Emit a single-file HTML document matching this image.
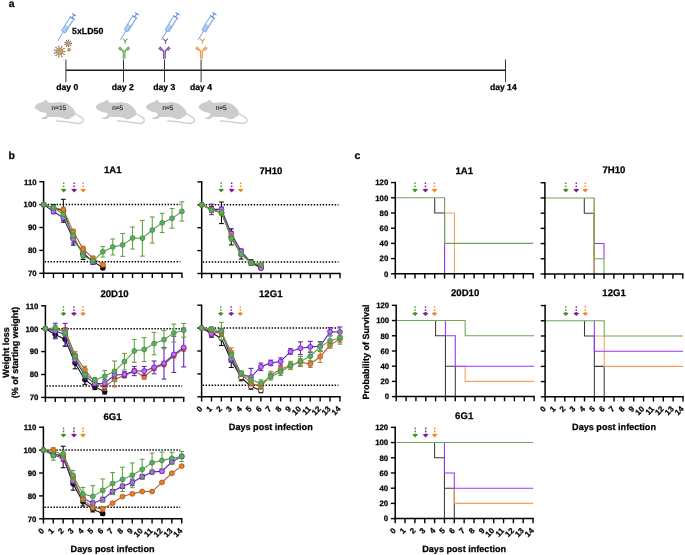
<!DOCTYPE html>
<html><head><meta charset="utf-8"><title>Figure</title>
<style>
html,body{margin:0;padding:0;background:#fff;width:685px;height:555px;overflow:hidden;}
svg{display:block;font-family:"Liberation Sans", sans-serif;filter:blur(0.35px);}
text{stroke:#000;stroke-width:0.25px;text-rendering:geometricPrecision;}
text.m{stroke:#333;stroke-width:0.2px;}
</style></head><body>
<svg width="685" height="555" viewBox="0 0 685 555" font-family='"Liberation Sans", sans-serif'><text x="8.70" y="7.00" font-size="10.4" font-weight="bold" text-anchor="start" fill="#000" >a</text>
<line x1="65.90" y1="70.30" x2="505.50" y2="70.30" stroke="#1a1a1a" stroke-width="1.4" />
<line x1="65.90" y1="59.50" x2="65.90" y2="82.20" stroke="#333" stroke-width="1.0" />
<line x1="123.50" y1="59.50" x2="123.50" y2="82.20" stroke="#333" stroke-width="1.0" />
<line x1="164.50" y1="59.50" x2="164.50" y2="82.20" stroke="#333" stroke-width="1.0" />
<line x1="201.10" y1="59.50" x2="201.10" y2="82.20" stroke="#333" stroke-width="1.0" />
<line x1="505.50" y1="59.50" x2="505.50" y2="82.20" stroke="#333" stroke-width="1.0" />
<text x="67.20" y="90.10" font-size="8.6" font-weight="bold" text-anchor="middle" fill="#000" >day 0</text>
<text x="122.80" y="90.10" font-size="8.6" font-weight="bold" text-anchor="middle" fill="#000" >day 2</text>
<text x="164.20" y="90.10" font-size="8.6" font-weight="bold" text-anchor="middle" fill="#000" >day 3</text>
<text x="201.00" y="90.10" font-size="8.6" font-weight="bold" text-anchor="middle" fill="#000" >day 4</text>
<text x="503.30" y="90.10" font-size="8.6" font-weight="bold" text-anchor="middle" fill="#000" >day 14</text>
<text x="72.00" y="34.00" font-size="8.8" font-weight="bold" text-anchor="start" fill="#000" >5xLD50</text>
<g transform="translate(57.90,40.70) rotate(-58.0)" fill="none" stroke="#5b8ee0" stroke-width="0.8"><line x1="0" y1="0" x2="10.5" y2="0"/><rect x="11" y="-1.7" width="6.5" height="3.4" fill="#a9d3ef" stroke="none"/><rect x="10.5" y="-2.1" width="16" height="4.2"/><line x1="12.5" y1="1.2" x2="25" y2="1.2" stroke-width="0.6" stroke-dasharray="0.9 0.9"/><line x1="26.8" y1="-2.9" x2="26.8" y2="2.9" stroke-width="1.0"/><line x1="27" y1="0" x2="30.3" y2="0" stroke-width="1.0"/><line x1="30.6" y1="-2.4" x2="30.6" y2="2.4" stroke-width="1.1"/></g>
<g transform="translate(120.50,39.60) rotate(-58.0)" fill="none" stroke="#5b8ee0" stroke-width="0.8"><line x1="0" y1="0" x2="10.5" y2="0"/><rect x="11" y="-1.7" width="6.5" height="3.4" fill="#a9d3ef" stroke="none"/><rect x="10.5" y="-2.1" width="16" height="4.2"/><line x1="12.5" y1="1.2" x2="25" y2="1.2" stroke-width="0.6" stroke-dasharray="0.9 0.9"/><line x1="26.8" y1="-2.9" x2="26.8" y2="2.9" stroke-width="1.0"/><line x1="27" y1="0" x2="30.3" y2="0" stroke-width="1.0"/><line x1="30.6" y1="-2.4" x2="30.6" y2="2.4" stroke-width="1.1"/></g>
<g transform="translate(161.40,39.70) rotate(-58.0)" fill="none" stroke="#5b8ee0" stroke-width="0.8"><line x1="0" y1="0" x2="10.5" y2="0"/><rect x="11" y="-1.7" width="6.5" height="3.4" fill="#a9d3ef" stroke="none"/><rect x="10.5" y="-2.1" width="16" height="4.2"/><line x1="12.5" y1="1.2" x2="25" y2="1.2" stroke-width="0.6" stroke-dasharray="0.9 0.9"/><line x1="26.8" y1="-2.9" x2="26.8" y2="2.9" stroke-width="1.0"/><line x1="27" y1="0" x2="30.3" y2="0" stroke-width="1.0"/><line x1="30.6" y1="-2.4" x2="30.6" y2="2.4" stroke-width="1.1"/></g>
<g transform="translate(198.20,39.70) rotate(-58.0)" fill="none" stroke="#5b8ee0" stroke-width="0.8"><line x1="0" y1="0" x2="10.5" y2="0"/><rect x="11" y="-1.7" width="6.5" height="3.4" fill="#a9d3ef" stroke="none"/><rect x="10.5" y="-2.1" width="16" height="4.2"/><line x1="12.5" y1="1.2" x2="25" y2="1.2" stroke-width="0.6" stroke-dasharray="0.9 0.9"/><line x1="26.8" y1="-2.9" x2="26.8" y2="2.9" stroke-width="1.0"/><line x1="27" y1="0" x2="30.3" y2="0" stroke-width="1.0"/><line x1="30.6" y1="-2.4" x2="30.6" y2="2.4" stroke-width="1.1"/></g>
<line x1="62.90" y1="51.50" x2="65.10" y2="51.50" stroke="#7a5a3c" stroke-width="0.8"/><circle cx="65.10" cy="51.50" r="0.55" fill="#6e4e34"/><line x1="62.38" y1="53.28" x2="64.23" y2="54.47" stroke="#7a5a3c" stroke-width="0.8"/><circle cx="64.23" cy="54.47" r="0.55" fill="#6e4e34"/><line x1="60.97" y1="54.50" x2="61.88" y2="56.50" stroke="#7a5a3c" stroke-width="0.8"/><circle cx="61.88" cy="56.50" r="0.55" fill="#6e4e34"/><line x1="59.13" y1="54.77" x2="58.82" y2="56.94" stroke="#7a5a3c" stroke-width="0.8"/><circle cx="58.82" cy="56.94" r="0.55" fill="#6e4e34"/><line x1="57.44" y1="53.99" x2="56.00" y2="55.66" stroke="#7a5a3c" stroke-width="0.8"/><circle cx="56.00" cy="55.66" r="0.55" fill="#6e4e34"/><line x1="56.43" y1="52.43" x2="54.32" y2="53.05" stroke="#7a5a3c" stroke-width="0.8"/><circle cx="54.32" cy="53.05" r="0.55" fill="#6e4e34"/><line x1="56.43" y1="50.57" x2="54.32" y2="49.95" stroke="#7a5a3c" stroke-width="0.8"/><circle cx="54.32" cy="49.95" r="0.55" fill="#6e4e34"/><line x1="57.44" y1="49.01" x2="56.00" y2="47.34" stroke="#7a5a3c" stroke-width="0.8"/><circle cx="56.00" cy="47.34" r="0.55" fill="#6e4e34"/><line x1="59.13" y1="48.23" x2="58.82" y2="46.06" stroke="#7a5a3c" stroke-width="0.8"/><circle cx="58.82" cy="46.06" r="0.55" fill="#6e4e34"/><line x1="60.97" y1="48.50" x2="61.88" y2="46.50" stroke="#7a5a3c" stroke-width="0.8"/><circle cx="61.88" cy="46.50" r="0.55" fill="#6e4e34"/><line x1="62.38" y1="49.72" x2="64.23" y2="48.53" stroke="#7a5a3c" stroke-width="0.8"/><circle cx="64.23" cy="48.53" r="0.55" fill="#6e4e34"/><circle cx="59.6" cy="51.5" r="3.3" fill="#c9a061" stroke="#8a6a44" stroke-width="0.5"/>
<line x1="70.10" y1="43.40" x2="71.50" y2="43.40" stroke="#7a5a3c" stroke-width="0.8"/><circle cx="71.50" cy="43.40" r="0.55" fill="#6e4e34"/><line x1="69.63" y1="44.69" x2="70.70" y2="45.59" stroke="#7a5a3c" stroke-width="0.8"/><circle cx="70.70" cy="45.59" r="0.55" fill="#6e4e34"/><line x1="68.45" y1="45.37" x2="68.69" y2="46.75" stroke="#7a5a3c" stroke-width="0.8"/><circle cx="68.69" cy="46.75" r="0.55" fill="#6e4e34"/><line x1="67.10" y1="45.13" x2="66.40" y2="46.34" stroke="#7a5a3c" stroke-width="0.8"/><circle cx="66.40" cy="46.34" r="0.55" fill="#6e4e34"/><line x1="66.22" y1="44.08" x2="64.91" y2="44.56" stroke="#7a5a3c" stroke-width="0.8"/><circle cx="64.91" cy="44.56" r="0.55" fill="#6e4e34"/><line x1="66.22" y1="42.72" x2="64.91" y2="42.24" stroke="#7a5a3c" stroke-width="0.8"/><circle cx="64.91" cy="42.24" r="0.55" fill="#6e4e34"/><line x1="67.10" y1="41.67" x2="66.40" y2="40.46" stroke="#7a5a3c" stroke-width="0.8"/><circle cx="66.40" cy="40.46" r="0.55" fill="#6e4e34"/><line x1="68.45" y1="41.43" x2="68.69" y2="40.05" stroke="#7a5a3c" stroke-width="0.8"/><circle cx="68.69" cy="40.05" r="0.55" fill="#6e4e34"/><line x1="69.63" y1="42.11" x2="70.70" y2="41.21" stroke="#7a5a3c" stroke-width="0.8"/><circle cx="70.70" cy="41.21" r="0.55" fill="#6e4e34"/><circle cx="68.1" cy="43.4" r="2.0" fill="#c9a061" stroke="#8a6a44" stroke-width="0.5"/>
<circle cx="69.0" cy="49.8" r="1.5" fill="#c9a061" stroke="#8a6a44" stroke-width="0.5"/>
<g stroke="#6aae58" fill="none" stroke-linecap="butt"><line x1="123.30" y1="50.60" x2="123.30" y2="58.80" stroke-width="1.3"/><line x1="124.90" y1="50.60" x2="124.90" y2="58.80" stroke-width="1.3"/><line x1="123.30" y1="51.20" x2="119.50" y2="46.80" stroke-width="1.4"/><line x1="120.87" y1="50.61" x2="118.40" y2="47.75" stroke-width="1.4"/><line x1="124.90" y1="51.20" x2="128.70" y2="46.80" stroke-width="1.4"/><line x1="127.33" y1="50.61" x2="129.80" y2="47.75" stroke-width="1.4"/></g><g stroke="#6aae58" stroke-width="1.1" fill="none"><line x1="125.20" y1="41.00" x2="125.20" y2="43.80"/><polyline points="122.90,38.6 125.20,41.2 127.50,38.6"/></g>
<g stroke="#7a4fa6" fill="none" stroke-linecap="butt"><line x1="163.60" y1="50.60" x2="163.60" y2="58.80" stroke-width="1.3"/><line x1="165.20" y1="50.60" x2="165.20" y2="58.80" stroke-width="1.3"/><line x1="163.60" y1="51.20" x2="159.80" y2="46.80" stroke-width="1.4"/><line x1="161.17" y1="50.61" x2="158.70" y2="47.75" stroke-width="1.4"/><line x1="165.20" y1="51.20" x2="169.00" y2="46.80" stroke-width="1.4"/><line x1="167.63" y1="50.61" x2="170.10" y2="47.75" stroke-width="1.4"/></g><g stroke="#7a4fa6" stroke-width="1.1" fill="none"><line x1="165.50" y1="41.00" x2="165.50" y2="43.80"/><polyline points="163.20,38.6 165.50,41.2 167.80,38.6"/></g>
<g stroke="#ef9a4c" fill="none" stroke-linecap="butt"><line x1="200.60" y1="50.60" x2="200.60" y2="58.80" stroke-width="1.3"/><line x1="202.20" y1="50.60" x2="202.20" y2="58.80" stroke-width="1.3"/><line x1="200.60" y1="51.20" x2="196.80" y2="46.80" stroke-width="1.4"/><line x1="198.17" y1="50.61" x2="195.70" y2="47.75" stroke-width="1.4"/><line x1="202.20" y1="51.20" x2="206.00" y2="46.80" stroke-width="1.4"/><line x1="204.63" y1="50.61" x2="207.10" y2="47.75" stroke-width="1.4"/></g><g stroke="#ef9a4c" stroke-width="1.1" fill="none"><line x1="202.50" y1="41.00" x2="202.50" y2="43.80"/><polyline points="200.20,38.6 202.50,41.2 204.80,38.6"/></g>
<g transform="translate(34.80,106.90)"><path d="M0.10,0.00 C0.10,-0.62 0.58,-1.12 1.00,-1.60 C1.42,-2.08 1.70,-2.38 2.60,-2.90 C3.50,-3.42 5.37,-4.27 6.40,-4.70 C7.43,-5.13 8.13,-5.13 8.80,-5.50 C9.47,-5.87 9.85,-6.72 10.40,-6.90 C10.95,-7.08 11.68,-6.92 12.10,-6.60 C12.52,-6.28 12.32,-5.42 12.90,-5.00 C13.48,-4.58 14.17,-4.20 15.60,-4.10 C17.03,-4.00 19.57,-4.33 21.50,-4.40 C23.43,-4.47 25.43,-4.68 27.20,-4.50 C28.97,-4.32 30.65,-3.95 32.10,-3.30 C33.55,-2.65 34.82,-1.50 35.90,-0.60 C36.98,0.30 37.88,1.20 38.60,2.10 C39.32,3.00 39.88,4.00 40.20,4.80 C40.52,5.60 40.68,6.18 40.50,6.90 C40.32,7.62 39.78,8.52 39.10,9.10 C38.42,9.68 36.98,10.00 36.40,10.40 C35.82,10.80 36.13,11.22 35.60,11.50 C35.07,11.78 34.05,11.97 33.20,12.10 C32.35,12.23 31.17,12.38 30.50,12.30 C29.83,12.22 29.83,11.88 29.20,11.60 C28.57,11.32 27.67,10.87 26.70,10.60 C25.73,10.33 24.53,10.07 23.40,10.00 C22.27,9.93 21.20,10.22 19.90,10.20 C18.60,10.18 16.58,9.90 15.60,9.90 C14.62,9.90 14.63,9.88 14.00,10.20 C13.37,10.52 12.80,11.47 11.80,11.80 C10.80,12.13 8.90,12.28 8.00,12.20 C7.10,12.12 6.13,11.63 6.40,11.30 C6.67,10.97 8.75,10.65 9.60,10.20 C10.45,9.75 11.13,9.13 11.50,8.60 C11.87,8.07 12.02,7.45 11.80,7.00 C11.58,6.55 11.28,6.32 10.20,5.90 C9.12,5.48 6.83,5.13 5.30,4.50 C3.77,3.87 1.87,2.85 1.00,2.10 C0.13,1.35 0.10,0.62 0.10,0.00 Z" fill="#cccccc"/><path d="M40.30,6.90 C41.33,7.47 41.27,7.33 43.40,8.60 C45.53,9.87 45.07,9.27 46.70,10.70 C48.33,12.13 47.93,11.47 48.30,12.90 C48.67,14.33 48.70,13.93 47.80,15.00 C46.90,16.07 47.60,15.63 45.60,16.10 C43.60,16.57 44.87,16.57 41.80,16.40 C38.73,16.23 40.00,16.13 36.40,15.60 C32.80,15.07 34.60,15.27 31.00,14.80 C27.40,14.33 28.67,14.40 25.60,14.20 C22.53,14.00 23.07,14.20 21.80,14.20" fill="none" stroke="#cccccc" stroke-width="1.3" stroke-linecap="round"/></g>
<text x="58.80" y="109.80" font-size="6.5" font-weight="normal" text-anchor="middle" fill="#333333" class="m">n=15</text>
<g transform="translate(95.80,106.90)"><path d="M0.10,0.00 C0.10,-0.62 0.58,-1.12 1.00,-1.60 C1.42,-2.08 1.70,-2.38 2.60,-2.90 C3.50,-3.42 5.37,-4.27 6.40,-4.70 C7.43,-5.13 8.13,-5.13 8.80,-5.50 C9.47,-5.87 9.85,-6.72 10.40,-6.90 C10.95,-7.08 11.68,-6.92 12.10,-6.60 C12.52,-6.28 12.32,-5.42 12.90,-5.00 C13.48,-4.58 14.17,-4.20 15.60,-4.10 C17.03,-4.00 19.57,-4.33 21.50,-4.40 C23.43,-4.47 25.43,-4.68 27.20,-4.50 C28.97,-4.32 30.65,-3.95 32.10,-3.30 C33.55,-2.65 34.82,-1.50 35.90,-0.60 C36.98,0.30 37.88,1.20 38.60,2.10 C39.32,3.00 39.88,4.00 40.20,4.80 C40.52,5.60 40.68,6.18 40.50,6.90 C40.32,7.62 39.78,8.52 39.10,9.10 C38.42,9.68 36.98,10.00 36.40,10.40 C35.82,10.80 36.13,11.22 35.60,11.50 C35.07,11.78 34.05,11.97 33.20,12.10 C32.35,12.23 31.17,12.38 30.50,12.30 C29.83,12.22 29.83,11.88 29.20,11.60 C28.57,11.32 27.67,10.87 26.70,10.60 C25.73,10.33 24.53,10.07 23.40,10.00 C22.27,9.93 21.20,10.22 19.90,10.20 C18.60,10.18 16.58,9.90 15.60,9.90 C14.62,9.90 14.63,9.88 14.00,10.20 C13.37,10.52 12.80,11.47 11.80,11.80 C10.80,12.13 8.90,12.28 8.00,12.20 C7.10,12.12 6.13,11.63 6.40,11.30 C6.67,10.97 8.75,10.65 9.60,10.20 C10.45,9.75 11.13,9.13 11.50,8.60 C11.87,8.07 12.02,7.45 11.80,7.00 C11.58,6.55 11.28,6.32 10.20,5.90 C9.12,5.48 6.83,5.13 5.30,4.50 C3.77,3.87 1.87,2.85 1.00,2.10 C0.13,1.35 0.10,0.62 0.10,0.00 Z" fill="#cccccc"/><path d="M40.30,6.90 C41.33,7.47 41.27,7.33 43.40,8.60 C45.53,9.87 45.07,9.27 46.70,10.70 C48.33,12.13 47.93,11.47 48.30,12.90 C48.67,14.33 48.70,13.93 47.80,15.00 C46.90,16.07 47.60,15.63 45.60,16.10 C43.60,16.57 44.87,16.57 41.80,16.40 C38.73,16.23 40.00,16.13 36.40,15.60 C32.80,15.07 34.60,15.27 31.00,14.80 C27.40,14.33 28.67,14.40 25.60,14.20 C22.53,14.00 23.07,14.20 21.80,14.20" fill="none" stroke="#cccccc" stroke-width="1.3" stroke-linecap="round"/></g>
<text x="117.70" y="109.80" font-size="6.5" font-weight="normal" text-anchor="middle" fill="#333333" class="m">n=5</text>
<g transform="translate(146.00,106.90)"><path d="M0.10,0.00 C0.10,-0.62 0.58,-1.12 1.00,-1.60 C1.42,-2.08 1.70,-2.38 2.60,-2.90 C3.50,-3.42 5.37,-4.27 6.40,-4.70 C7.43,-5.13 8.13,-5.13 8.80,-5.50 C9.47,-5.87 9.85,-6.72 10.40,-6.90 C10.95,-7.08 11.68,-6.92 12.10,-6.60 C12.52,-6.28 12.32,-5.42 12.90,-5.00 C13.48,-4.58 14.17,-4.20 15.60,-4.10 C17.03,-4.00 19.57,-4.33 21.50,-4.40 C23.43,-4.47 25.43,-4.68 27.20,-4.50 C28.97,-4.32 30.65,-3.95 32.10,-3.30 C33.55,-2.65 34.82,-1.50 35.90,-0.60 C36.98,0.30 37.88,1.20 38.60,2.10 C39.32,3.00 39.88,4.00 40.20,4.80 C40.52,5.60 40.68,6.18 40.50,6.90 C40.32,7.62 39.78,8.52 39.10,9.10 C38.42,9.68 36.98,10.00 36.40,10.40 C35.82,10.80 36.13,11.22 35.60,11.50 C35.07,11.78 34.05,11.97 33.20,12.10 C32.35,12.23 31.17,12.38 30.50,12.30 C29.83,12.22 29.83,11.88 29.20,11.60 C28.57,11.32 27.67,10.87 26.70,10.60 C25.73,10.33 24.53,10.07 23.40,10.00 C22.27,9.93 21.20,10.22 19.90,10.20 C18.60,10.18 16.58,9.90 15.60,9.90 C14.62,9.90 14.63,9.88 14.00,10.20 C13.37,10.52 12.80,11.47 11.80,11.80 C10.80,12.13 8.90,12.28 8.00,12.20 C7.10,12.12 6.13,11.63 6.40,11.30 C6.67,10.97 8.75,10.65 9.60,10.20 C10.45,9.75 11.13,9.13 11.50,8.60 C11.87,8.07 12.02,7.45 11.80,7.00 C11.58,6.55 11.28,6.32 10.20,5.90 C9.12,5.48 6.83,5.13 5.30,4.50 C3.77,3.87 1.87,2.85 1.00,2.10 C0.13,1.35 0.10,0.62 0.10,0.00 Z" fill="#cccccc"/><path d="M40.30,6.90 C41.33,7.47 41.27,7.33 43.40,8.60 C45.53,9.87 45.07,9.27 46.70,10.70 C48.33,12.13 47.93,11.47 48.30,12.90 C48.67,14.33 48.70,13.93 47.80,15.00 C46.90,16.07 47.60,15.63 45.60,16.10 C43.60,16.57 44.87,16.57 41.80,16.40 C38.73,16.23 40.00,16.13 36.40,15.60 C32.80,15.07 34.60,15.27 31.00,14.80 C27.40,14.33 28.67,14.40 25.60,14.20 C22.53,14.00 23.07,14.20 21.80,14.20" fill="none" stroke="#cccccc" stroke-width="1.3" stroke-linecap="round"/></g>
<text x="167.90" y="109.80" font-size="6.5" font-weight="normal" text-anchor="middle" fill="#333333" class="m">n=5</text>
<g transform="translate(198.60,106.90)"><path d="M0.10,0.00 C0.10,-0.62 0.58,-1.12 1.00,-1.60 C1.42,-2.08 1.70,-2.38 2.60,-2.90 C3.50,-3.42 5.37,-4.27 6.40,-4.70 C7.43,-5.13 8.13,-5.13 8.80,-5.50 C9.47,-5.87 9.85,-6.72 10.40,-6.90 C10.95,-7.08 11.68,-6.92 12.10,-6.60 C12.52,-6.28 12.32,-5.42 12.90,-5.00 C13.48,-4.58 14.17,-4.20 15.60,-4.10 C17.03,-4.00 19.57,-4.33 21.50,-4.40 C23.43,-4.47 25.43,-4.68 27.20,-4.50 C28.97,-4.32 30.65,-3.95 32.10,-3.30 C33.55,-2.65 34.82,-1.50 35.90,-0.60 C36.98,0.30 37.88,1.20 38.60,2.10 C39.32,3.00 39.88,4.00 40.20,4.80 C40.52,5.60 40.68,6.18 40.50,6.90 C40.32,7.62 39.78,8.52 39.10,9.10 C38.42,9.68 36.98,10.00 36.40,10.40 C35.82,10.80 36.13,11.22 35.60,11.50 C35.07,11.78 34.05,11.97 33.20,12.10 C32.35,12.23 31.17,12.38 30.50,12.30 C29.83,12.22 29.83,11.88 29.20,11.60 C28.57,11.32 27.67,10.87 26.70,10.60 C25.73,10.33 24.53,10.07 23.40,10.00 C22.27,9.93 21.20,10.22 19.90,10.20 C18.60,10.18 16.58,9.90 15.60,9.90 C14.62,9.90 14.63,9.88 14.00,10.20 C13.37,10.52 12.80,11.47 11.80,11.80 C10.80,12.13 8.90,12.28 8.00,12.20 C7.10,12.12 6.13,11.63 6.40,11.30 C6.67,10.97 8.75,10.65 9.60,10.20 C10.45,9.75 11.13,9.13 11.50,8.60 C11.87,8.07 12.02,7.45 11.80,7.00 C11.58,6.55 11.28,6.32 10.20,5.90 C9.12,5.48 6.83,5.13 5.30,4.50 C3.77,3.87 1.87,2.85 1.00,2.10 C0.13,1.35 0.10,0.62 0.10,0.00 Z" fill="#cccccc"/><path d="M40.30,6.90 C41.33,7.47 41.27,7.33 43.40,8.60 C45.53,9.87 45.07,9.27 46.70,10.70 C48.33,12.13 47.93,11.47 48.30,12.90 C48.67,14.33 48.70,13.93 47.80,15.00 C46.90,16.07 47.60,15.63 45.60,16.10 C43.60,16.57 44.87,16.57 41.80,16.40 C38.73,16.23 40.00,16.13 36.40,15.60 C32.80,15.07 34.60,15.27 31.00,14.80 C27.40,14.33 28.67,14.40 25.60,14.20 C22.53,14.00 23.07,14.20 21.80,14.20" fill="none" stroke="#cccccc" stroke-width="1.3" stroke-linecap="round"/></g>
<text x="221.20" y="109.80" font-size="6.5" font-weight="normal" text-anchor="middle" fill="#333333" class="m">n=5</text>
<text x="8.60" y="159.00" font-size="10.5" font-weight="bold" text-anchor="start" fill="#000" >b</text>
<text x="354.60" y="159.00" font-size="10.5" font-weight="bold" text-anchor="start" fill="#000" >c</text>
<text x="112.76" y="172.80" font-size="9.6" font-weight="bold" text-anchor="middle" fill="#000" >1A1</text>
<line x1="63.70" y1="182.50" x2="63.70" y2="188.50" stroke="#4a8f2a" stroke-width="1.4" stroke-dasharray="1.6 1.4"/>
<path d="M63.70,188.40 L66.60,189.50 L63.70,192.40 L60.80,189.50 Z" fill="#4a8f2a"/>
<line x1="74.15" y1="182.50" x2="74.15" y2="188.50" stroke="#7d1a95" stroke-width="1.4" stroke-dasharray="1.6 1.4"/>
<path d="M74.15,188.40 L77.05,189.50 L74.15,192.40 L71.25,189.50 Z" fill="#7d1a95"/>
<line x1="83.20" y1="182.50" x2="83.20" y2="188.50" stroke="#f08a2a" stroke-width="1.4" stroke-dasharray="1.6 1.4"/>
<path d="M83.20,188.40 L86.10,189.50 L83.20,192.40 L80.30,189.50 Z" fill="#f08a2a"/>
<line x1="44.60" y1="204.60" x2="180.42" y2="204.60" stroke="#000" stroke-width="1.5" stroke-dasharray="1.45 1.55"/>
<line x1="44.60" y1="261.85" x2="180.42" y2="261.85" stroke="#000" stroke-width="1.5" stroke-dasharray="1.45 1.55"/>
<line x1="43.60" y1="181.00" x2="43.60" y2="274.00" stroke="#000" stroke-width="1.5" />
<line x1="39.30" y1="181.70" x2="43.60" y2="181.70" stroke="#000" stroke-width="1.4" />
<text x="36.60" y="184.50" font-size="7.8" font-weight="bold" text-anchor="end" fill="#000" >110</text>
<line x1="39.30" y1="204.60" x2="43.60" y2="204.60" stroke="#000" stroke-width="1.4" />
<text x="36.60" y="207.40" font-size="7.8" font-weight="bold" text-anchor="end" fill="#000" >100</text>
<line x1="39.30" y1="227.50" x2="43.60" y2="227.50" stroke="#000" stroke-width="1.4" />
<text x="36.60" y="230.30" font-size="7.8" font-weight="bold" text-anchor="end" fill="#000" >90</text>
<line x1="39.30" y1="250.40" x2="43.60" y2="250.40" stroke="#000" stroke-width="1.4" />
<text x="36.60" y="253.20" font-size="7.8" font-weight="bold" text-anchor="end" fill="#000" >80</text>
<line x1="39.30" y1="273.30" x2="43.60" y2="273.30" stroke="#000" stroke-width="1.4" />
<text x="36.60" y="276.10" font-size="7.8" font-weight="bold" text-anchor="end" fill="#000" >70</text>
<line x1="42.90" y1="273.30" x2="182.62" y2="273.30" stroke="#000" stroke-width="1.5" />
<line x1="43.60" y1="273.30" x2="43.60" y2="278.00" stroke="#000" stroke-width="1.4" />
<line x1="53.48" y1="273.30" x2="53.48" y2="278.00" stroke="#000" stroke-width="1.4" />
<line x1="63.36" y1="273.30" x2="63.36" y2="278.00" stroke="#000" stroke-width="1.4" />
<line x1="73.24" y1="273.30" x2="73.24" y2="278.00" stroke="#000" stroke-width="1.4" />
<line x1="83.12" y1="273.30" x2="83.12" y2="278.00" stroke="#000" stroke-width="1.4" />
<line x1="93.00" y1="273.30" x2="93.00" y2="278.00" stroke="#000" stroke-width="1.4" />
<line x1="102.88" y1="273.30" x2="102.88" y2="278.00" stroke="#000" stroke-width="1.4" />
<line x1="112.76" y1="273.30" x2="112.76" y2="278.00" stroke="#000" stroke-width="1.4" />
<line x1="122.64" y1="273.30" x2="122.64" y2="278.00" stroke="#000" stroke-width="1.4" />
<line x1="132.52" y1="273.30" x2="132.52" y2="278.00" stroke="#000" stroke-width="1.4" />
<line x1="142.40" y1="273.30" x2="142.40" y2="278.00" stroke="#000" stroke-width="1.4" />
<line x1="152.28" y1="273.30" x2="152.28" y2="278.00" stroke="#000" stroke-width="1.4" />
<line x1="162.16" y1="273.30" x2="162.16" y2="278.00" stroke="#000" stroke-width="1.4" />
<line x1="172.04" y1="273.30" x2="172.04" y2="278.00" stroke="#000" stroke-width="1.4" />
<line x1="181.92" y1="273.30" x2="181.92" y2="278.00" stroke="#000" stroke-width="1.4" />
<g stroke="#111111" stroke-width="1.1"><line x1="53.48" y1="204.60" x2="53.48" y2="211.47"/><line x1="51.08" y1="204.60" x2="55.88" y2="204.60"/><line x1="51.08" y1="211.47" x2="55.88" y2="211.47"/></g>
<g stroke="#111111" stroke-width="1.1"><line x1="63.36" y1="199.33" x2="63.36" y2="222.23"/><line x1="60.96" y1="199.33" x2="65.76" y2="199.33"/><line x1="60.96" y1="222.23" x2="65.76" y2="222.23"/></g>
<g stroke="#111111" stroke-width="1.1"><line x1="73.24" y1="230.48" x2="73.24" y2="245.13"/><line x1="70.84" y1="230.48" x2="75.64" y2="230.48"/><line x1="70.84" y1="245.13" x2="75.64" y2="245.13"/></g>
<g stroke="#111111" stroke-width="1.1"><line x1="83.12" y1="248.11" x2="83.12" y2="259.56"/><line x1="80.72" y1="248.11" x2="85.52" y2="248.11"/><line x1="80.72" y1="259.56" x2="85.52" y2="259.56"/></g>
<g stroke="#111111" stroke-width="1.1"><line x1="93.00" y1="258.42" x2="93.00" y2="264.37"/><line x1="90.60" y1="258.42" x2="95.40" y2="258.42"/><line x1="90.60" y1="264.37" x2="95.40" y2="264.37"/></g>
<g stroke="#111111" stroke-width="1.1"><line x1="102.88" y1="265.97" x2="102.88" y2="269.64"/><line x1="100.48" y1="265.97" x2="105.28" y2="265.97"/><line x1="100.48" y1="269.64" x2="105.28" y2="269.64"/></g>
<polyline points="43.60,204.60 53.48,208.04 63.36,210.78 73.24,237.81 83.12,253.84 93.00,261.39 102.88,267.80" fill="none" stroke="#111111" stroke-width="1.1"/>
<circle cx="43.60" cy="204.60" r="2.45" fill="#111111" stroke="#000000" stroke-width="0.8"/>
<circle cx="53.48" cy="208.04" r="2.45" fill="#111111" stroke="#000000" stroke-width="0.8"/>
<circle cx="63.36" cy="210.78" r="2.45" fill="#111111" stroke="#000000" stroke-width="0.8"/>
<circle cx="73.24" cy="237.81" r="2.45" fill="#111111" stroke="#000000" stroke-width="0.8"/>
<circle cx="83.12" cy="253.84" r="2.45" fill="#111111" stroke="#000000" stroke-width="0.8"/>
<circle cx="93.00" cy="261.39" r="2.45" fill="#111111" stroke="#000000" stroke-width="0.8"/>
<circle cx="102.88" cy="267.80" r="2.45" fill="#111111" stroke="#000000" stroke-width="0.8"/>
<g stroke="#6a22b8" stroke-width="1.1"><line x1="53.48" y1="209.18" x2="53.48" y2="213.76"/><line x1="51.08" y1="209.18" x2="55.88" y2="209.18"/><line x1="51.08" y1="213.76" x2="55.88" y2="213.76"/></g>
<g stroke="#6a22b8" stroke-width="1.1"><line x1="63.36" y1="215.13" x2="63.36" y2="220.63"/><line x1="60.96" y1="215.13" x2="65.76" y2="215.13"/><line x1="60.96" y1="220.63" x2="65.76" y2="220.63"/></g>
<g stroke="#6a22b8" stroke-width="1.1"><line x1="73.24" y1="234.83" x2="73.24" y2="243.07"/><line x1="70.84" y1="234.83" x2="75.64" y2="234.83"/><line x1="70.84" y1="243.07" x2="75.64" y2="243.07"/></g>
<g stroke="#6a22b8" stroke-width="1.1"><line x1="83.12" y1="249.94" x2="83.12" y2="255.44"/><line x1="80.72" y1="249.94" x2="85.52" y2="249.94"/><line x1="80.72" y1="255.44" x2="85.52" y2="255.44"/></g>
<g stroke="#6a22b8" stroke-width="1.1"><line x1="93.00" y1="260.48" x2="93.00" y2="264.14"/><line x1="90.60" y1="260.48" x2="95.40" y2="260.48"/><line x1="90.60" y1="264.14" x2="95.40" y2="264.14"/></g>
<polyline points="43.60,204.60 53.48,211.47 63.36,217.88 73.24,238.95 83.12,252.69 93.00,262.31" fill="none" stroke="#22208e" stroke-width="1.1"/>
<circle cx="43.60" cy="204.60" r="2.45" fill="#c26cff" stroke="#5e14aa" stroke-width="0.8"/>
<circle cx="53.48" cy="211.47" r="2.45" fill="#c26cff" stroke="#5e14aa" stroke-width="0.8"/>
<circle cx="63.36" cy="217.88" r="2.45" fill="#c26cff" stroke="#5e14aa" stroke-width="0.8"/>
<circle cx="73.24" cy="238.95" r="2.45" fill="#c26cff" stroke="#5e14aa" stroke-width="0.8"/>
<circle cx="83.12" cy="252.69" r="2.45" fill="#c26cff" stroke="#5e14aa" stroke-width="0.8"/>
<circle cx="93.00" cy="262.31" r="2.45" fill="#c26cff" stroke="#5e14aa" stroke-width="0.8"/>
<g stroke="#b87a4e" stroke-width="1.1"><line x1="53.48" y1="205.97" x2="53.48" y2="209.64"/><line x1="51.08" y1="205.97" x2="55.88" y2="205.97"/><line x1="51.08" y1="209.64" x2="55.88" y2="209.64"/></g>
<g stroke="#b87a4e" stroke-width="1.1"><line x1="63.36" y1="207.35" x2="63.36" y2="211.93"/><line x1="60.96" y1="207.35" x2="65.76" y2="207.35"/><line x1="60.96" y1="211.93" x2="65.76" y2="211.93"/></g>
<g stroke="#b87a4e" stroke-width="1.1"><line x1="73.24" y1="229.33" x2="73.24" y2="233.91"/><line x1="70.84" y1="229.33" x2="75.64" y2="229.33"/><line x1="70.84" y1="233.91" x2="75.64" y2="233.91"/></g>
<g stroke="#b87a4e" stroke-width="1.1"><line x1="83.12" y1="246.28" x2="83.12" y2="251.77"/><line x1="80.72" y1="246.28" x2="85.52" y2="246.28"/><line x1="80.72" y1="251.77" x2="85.52" y2="251.77"/></g>
<g stroke="#b87a4e" stroke-width="1.1"><line x1="93.00" y1="256.35" x2="93.00" y2="260.02"/><line x1="90.60" y1="256.35" x2="95.40" y2="256.35"/><line x1="90.60" y1="260.02" x2="95.40" y2="260.02"/></g>
<g stroke="#b87a4e" stroke-width="1.1"><line x1="102.88" y1="263.00" x2="102.88" y2="266.66"/><line x1="100.48" y1="263.00" x2="105.28" y2="263.00"/><line x1="100.48" y1="266.66" x2="105.28" y2="266.66"/></g>
<polyline points="43.60,204.60 53.48,207.81 63.36,209.64 73.24,231.62 83.12,249.03 93.00,258.19 102.88,264.83" fill="none" stroke="#b0602e" stroke-width="1.1"/>
<circle cx="43.60" cy="204.60" r="2.45" fill="#f07c22" stroke="#a9561c" stroke-width="0.8"/>
<circle cx="53.48" cy="207.81" r="2.45" fill="#f07c22" stroke="#a9561c" stroke-width="0.8"/>
<circle cx="63.36" cy="209.64" r="2.45" fill="#f07c22" stroke="#a9561c" stroke-width="0.8"/>
<circle cx="73.24" cy="231.62" r="2.45" fill="#f07c22" stroke="#a9561c" stroke-width="0.8"/>
<circle cx="83.12" cy="249.03" r="2.45" fill="#f07c22" stroke="#a9561c" stroke-width="0.8"/>
<circle cx="93.00" cy="258.19" r="2.45" fill="#f07c22" stroke="#a9561c" stroke-width="0.8"/>
<circle cx="102.88" cy="264.83" r="2.45" fill="#f07c22" stroke="#a9561c" stroke-width="0.8"/>
<g stroke="#62a448" stroke-width="1.1"><line x1="53.48" y1="205.75" x2="53.48" y2="209.41"/><line x1="51.08" y1="205.75" x2="55.88" y2="205.75"/><line x1="51.08" y1="209.41" x2="55.88" y2="209.41"/></g>
<g stroke="#62a448" stroke-width="1.1"><line x1="63.36" y1="212.16" x2="63.36" y2="216.74"/><line x1="60.96" y1="212.16" x2="65.76" y2="212.16"/><line x1="60.96" y1="216.74" x2="65.76" y2="216.74"/></g>
<g stroke="#62a448" stroke-width="1.1"><line x1="73.24" y1="233.23" x2="73.24" y2="237.81"/><line x1="70.84" y1="233.23" x2="75.64" y2="233.23"/><line x1="70.84" y1="237.81" x2="75.64" y2="237.81"/></g>
<g stroke="#62a448" stroke-width="1.1"><line x1="83.12" y1="253.38" x2="83.12" y2="257.96"/><line x1="80.72" y1="253.38" x2="85.52" y2="253.38"/><line x1="80.72" y1="257.96" x2="85.52" y2="257.96"/></g>
<g stroke="#62a448" stroke-width="1.1"><line x1="93.00" y1="259.10" x2="93.00" y2="262.77"/><line x1="90.60" y1="259.10" x2="95.40" y2="259.10"/><line x1="90.60" y1="262.77" x2="95.40" y2="262.77"/></g>
<g stroke="#62a448" stroke-width="1.1"><line x1="102.88" y1="246.51" x2="102.88" y2="257.04"/><line x1="100.48" y1="246.51" x2="105.28" y2="246.51"/><line x1="100.48" y1="257.04" x2="105.28" y2="257.04"/></g>
<g stroke="#62a448" stroke-width="1.1"><line x1="112.76" y1="238.95" x2="112.76" y2="254.98"/><line x1="110.36" y1="238.95" x2="115.16" y2="238.95"/><line x1="110.36" y1="254.98" x2="115.16" y2="254.98"/></g>
<g stroke="#62a448" stroke-width="1.1"><line x1="122.64" y1="233.45" x2="122.64" y2="256.35"/><line x1="120.24" y1="233.45" x2="125.04" y2="233.45"/><line x1="120.24" y1="256.35" x2="125.04" y2="256.35"/></g>
<g stroke="#62a448" stroke-width="1.1"><line x1="132.52" y1="227.04" x2="132.52" y2="249.03"/><line x1="130.12" y1="227.04" x2="134.92" y2="227.04"/><line x1="130.12" y1="249.03" x2="134.92" y2="249.03"/></g>
<g stroke="#62a448" stroke-width="1.1"><line x1="142.40" y1="220.40" x2="142.40" y2="256.12"/><line x1="140.00" y1="220.40" x2="144.80" y2="220.40"/><line x1="140.00" y1="256.12" x2="144.80" y2="256.12"/></g>
<g stroke="#62a448" stroke-width="1.1"><line x1="152.28" y1="216.97" x2="152.28" y2="243.07"/><line x1="149.88" y1="216.97" x2="154.68" y2="216.97"/><line x1="149.88" y1="243.07" x2="154.68" y2="243.07"/></g>
<g stroke="#62a448" stroke-width="1.1"><line x1="162.16" y1="213.30" x2="162.16" y2="232.54"/><line x1="159.76" y1="213.30" x2="164.56" y2="213.30"/><line x1="159.76" y1="232.54" x2="164.56" y2="232.54"/></g>
<g stroke="#62a448" stroke-width="1.1"><line x1="172.04" y1="208.49" x2="172.04" y2="228.19"/><line x1="169.64" y1="208.49" x2="174.44" y2="208.49"/><line x1="169.64" y1="228.19" x2="174.44" y2="228.19"/></g>
<g stroke="#62a448" stroke-width="1.1"><line x1="181.92" y1="201.85" x2="181.92" y2="221.09"/><line x1="179.52" y1="201.85" x2="184.32" y2="201.85"/><line x1="179.52" y1="221.09" x2="184.32" y2="221.09"/></g>
<polyline points="43.60,204.60 53.48,207.58 63.36,214.45 73.24,235.52 83.12,255.67 93.00,260.93 102.88,251.77 112.76,246.97 122.64,244.90 132.52,238.03 142.40,238.26 152.28,230.02 162.16,222.92 172.04,218.34 181.92,211.47" fill="none" stroke="#58a43c" stroke-width="1.1"/>
<circle cx="43.60" cy="204.60" r="2.45" fill="#5ea86a" stroke="#3f8d36" stroke-width="0.8"/>
<circle cx="53.48" cy="207.58" r="2.45" fill="#5ea86a" stroke="#3f8d36" stroke-width="0.8"/>
<circle cx="63.36" cy="214.45" r="2.45" fill="#5ea86a" stroke="#3f8d36" stroke-width="0.8"/>
<circle cx="73.24" cy="235.52" r="2.45" fill="#5ea86a" stroke="#3f8d36" stroke-width="0.8"/>
<circle cx="83.12" cy="255.67" r="2.45" fill="#5ea86a" stroke="#3f8d36" stroke-width="0.8"/>
<circle cx="93.00" cy="260.93" r="2.45" fill="#5ea86a" stroke="#3f8d36" stroke-width="0.8"/>
<circle cx="102.88" cy="251.77" r="2.45" fill="#5ea86a" stroke="#3f8d36" stroke-width="0.8"/>
<circle cx="112.76" cy="246.97" r="2.45" fill="#5ea86a" stroke="#3f8d36" stroke-width="0.8"/>
<circle cx="122.64" cy="244.90" r="2.45" fill="#5ea86a" stroke="#3f8d36" stroke-width="0.8"/>
<circle cx="132.52" cy="238.03" r="2.45" fill="#5ea86a" stroke="#3f8d36" stroke-width="0.8"/>
<circle cx="142.40" cy="238.26" r="2.45" fill="#5ea86a" stroke="#3f8d36" stroke-width="0.8"/>
<circle cx="152.28" cy="230.02" r="2.45" fill="#5ea86a" stroke="#3f8d36" stroke-width="0.8"/>
<circle cx="162.16" cy="222.92" r="2.45" fill="#5ea86a" stroke="#3f8d36" stroke-width="0.8"/>
<circle cx="172.04" cy="218.34" r="2.45" fill="#5ea86a" stroke="#3f8d36" stroke-width="0.8"/>
<circle cx="181.92" cy="211.47" r="2.45" fill="#5ea86a" stroke="#3f8d36" stroke-width="0.8"/>
<text x="270.86" y="173.90" font-size="9.6" font-weight="bold" text-anchor="middle" fill="#000" >7H10</text>
<line x1="221.20" y1="182.50" x2="221.20" y2="188.50" stroke="#4a8f2a" stroke-width="1.4" stroke-dasharray="1.6 1.4"/>
<path d="M221.20,188.40 L224.10,189.50 L221.20,192.40 L218.30,189.50 Z" fill="#4a8f2a"/>
<line x1="231.65" y1="182.50" x2="231.65" y2="188.50" stroke="#7d1a95" stroke-width="1.4" stroke-dasharray="1.6 1.4"/>
<path d="M231.65,188.40 L234.55,189.50 L231.65,192.40 L228.75,189.50 Z" fill="#7d1a95"/>
<line x1="240.70" y1="182.50" x2="240.70" y2="188.50" stroke="#f08a2a" stroke-width="1.4" stroke-dasharray="1.6 1.4"/>
<path d="M240.70,188.40 L243.60,189.50 L240.70,192.40 L237.80,189.50 Z" fill="#f08a2a"/>
<line x1="202.70" y1="204.80" x2="338.52" y2="204.80" stroke="#000" stroke-width="1.5" stroke-dasharray="1.45 1.55"/>
<line x1="202.70" y1="262.05" x2="338.52" y2="262.05" stroke="#000" stroke-width="1.5" stroke-dasharray="1.45 1.55"/>
<line x1="201.70" y1="181.20" x2="201.70" y2="274.20" stroke="#000" stroke-width="1.5" />
<line x1="197.40" y1="181.90" x2="201.70" y2="181.90" stroke="#000" stroke-width="1.4" />
<line x1="197.40" y1="204.80" x2="201.70" y2="204.80" stroke="#000" stroke-width="1.4" />
<line x1="197.40" y1="227.70" x2="201.70" y2="227.70" stroke="#000" stroke-width="1.4" />
<line x1="197.40" y1="250.60" x2="201.70" y2="250.60" stroke="#000" stroke-width="1.4" />
<line x1="197.40" y1="273.50" x2="201.70" y2="273.50" stroke="#000" stroke-width="1.4" />
<line x1="201.00" y1="273.50" x2="340.72" y2="273.50" stroke="#000" stroke-width="1.5" />
<line x1="201.70" y1="273.50" x2="201.70" y2="278.20" stroke="#000" stroke-width="1.4" />
<line x1="211.58" y1="273.50" x2="211.58" y2="278.20" stroke="#000" stroke-width="1.4" />
<line x1="221.46" y1="273.50" x2="221.46" y2="278.20" stroke="#000" stroke-width="1.4" />
<line x1="231.34" y1="273.50" x2="231.34" y2="278.20" stroke="#000" stroke-width="1.4" />
<line x1="241.22" y1="273.50" x2="241.22" y2="278.20" stroke="#000" stroke-width="1.4" />
<line x1="251.10" y1="273.50" x2="251.10" y2="278.20" stroke="#000" stroke-width="1.4" />
<line x1="260.98" y1="273.50" x2="260.98" y2="278.20" stroke="#000" stroke-width="1.4" />
<line x1="270.86" y1="273.50" x2="270.86" y2="278.20" stroke="#000" stroke-width="1.4" />
<line x1="280.74" y1="273.50" x2="280.74" y2="278.20" stroke="#000" stroke-width="1.4" />
<line x1="290.62" y1="273.50" x2="290.62" y2="278.20" stroke="#000" stroke-width="1.4" />
<line x1="300.50" y1="273.50" x2="300.50" y2="278.20" stroke="#000" stroke-width="1.4" />
<line x1="310.38" y1="273.50" x2="310.38" y2="278.20" stroke="#000" stroke-width="1.4" />
<line x1="320.26" y1="273.50" x2="320.26" y2="278.20" stroke="#000" stroke-width="1.4" />
<line x1="330.14" y1="273.50" x2="330.14" y2="278.20" stroke="#000" stroke-width="1.4" />
<line x1="340.02" y1="273.50" x2="340.02" y2="278.20" stroke="#000" stroke-width="1.4" />
<g stroke="#111111" stroke-width="1.1"><line x1="211.58" y1="206.63" x2="211.58" y2="212.13"/><line x1="209.18" y1="206.63" x2="213.98" y2="206.63"/><line x1="209.18" y1="212.13" x2="213.98" y2="212.13"/></g>
<g stroke="#111111" stroke-width="1.1"><line x1="221.46" y1="202.05" x2="221.46" y2="223.58"/><line x1="219.06" y1="202.05" x2="223.86" y2="202.05"/><line x1="219.06" y1="223.58" x2="223.86" y2="223.58"/></g>
<g stroke="#111111" stroke-width="1.1"><line x1="231.34" y1="228.84" x2="231.34" y2="244.88"/><line x1="228.94" y1="228.84" x2="233.74" y2="228.84"/><line x1="228.94" y1="244.88" x2="233.74" y2="244.88"/></g>
<g stroke="#111111" stroke-width="1.1"><line x1="241.22" y1="249.91" x2="241.22" y2="259.07"/><line x1="238.82" y1="249.91" x2="243.62" y2="249.91"/><line x1="238.82" y1="259.07" x2="243.62" y2="259.07"/></g>
<g stroke="#111111" stroke-width="1.1"><line x1="251.10" y1="259.76" x2="251.10" y2="265.26"/><line x1="248.70" y1="259.76" x2="253.50" y2="259.76"/><line x1="248.70" y1="265.26" x2="253.50" y2="265.26"/></g>
<g stroke="#111111" stroke-width="1.1"><line x1="260.98" y1="264.80" x2="260.98" y2="268.46"/><line x1="258.58" y1="264.80" x2="263.38" y2="264.80"/><line x1="258.58" y1="268.46" x2="263.38" y2="268.46"/></g>
<polyline points="201.70,204.80 211.58,209.38 221.46,212.81 231.34,236.86 241.22,254.49 251.10,262.51 260.98,266.63" fill="none" stroke="#111111" stroke-width="1.1"/>
<circle cx="201.70" cy="204.80" r="2.45" fill="#111111" stroke="#000000" stroke-width="0.8"/>
<circle cx="211.58" cy="209.38" r="2.45" fill="#111111" stroke="#000000" stroke-width="0.8"/>
<circle cx="221.46" cy="212.81" r="2.45" fill="#111111" stroke="#000000" stroke-width="0.8"/>
<circle cx="231.34" cy="236.86" r="2.45" fill="#111111" stroke="#000000" stroke-width="0.8"/>
<circle cx="241.22" cy="254.49" r="2.45" fill="#111111" stroke="#000000" stroke-width="0.8"/>
<circle cx="251.10" cy="262.51" r="2.45" fill="#111111" stroke="#000000" stroke-width="0.8"/>
<circle cx="260.98" cy="266.63" r="2.45" fill="#111111" stroke="#000000" stroke-width="0.8"/>
<g stroke="#6a22b8" stroke-width="1.1"><line x1="211.58" y1="204.11" x2="211.58" y2="214.65"/><line x1="209.18" y1="204.11" x2="213.98" y2="204.11"/><line x1="209.18" y1="214.65" x2="213.98" y2="214.65"/></g>
<g stroke="#6a22b8" stroke-width="1.1"><line x1="221.46" y1="207.09" x2="221.46" y2="211.67"/><line x1="219.06" y1="207.09" x2="223.86" y2="207.09"/><line x1="219.06" y1="211.67" x2="223.86" y2="211.67"/></g>
<g stroke="#6a22b8" stroke-width="1.1"><line x1="231.34" y1="231.36" x2="231.34" y2="235.94"/><line x1="228.94" y1="231.36" x2="233.74" y2="231.36"/><line x1="228.94" y1="235.94" x2="233.74" y2="235.94"/></g>
<g stroke="#6a22b8" stroke-width="1.1"><line x1="241.22" y1="249.00" x2="241.22" y2="253.58"/><line x1="238.82" y1="249.00" x2="243.62" y2="249.00"/><line x1="238.82" y1="253.58" x2="243.62" y2="253.58"/></g>
<g stroke="#6a22b8" stroke-width="1.1"><line x1="251.10" y1="260.68" x2="251.10" y2="264.34"/><line x1="248.70" y1="260.68" x2="253.50" y2="260.68"/><line x1="248.70" y1="264.34" x2="253.50" y2="264.34"/></g>
<g stroke="#6a22b8" stroke-width="1.1"><line x1="260.98" y1="266.86" x2="260.98" y2="269.61"/><line x1="258.58" y1="266.86" x2="263.38" y2="266.86"/><line x1="258.58" y1="269.61" x2="263.38" y2="269.61"/></g>
<polyline points="201.70,204.80 211.58,209.38 221.46,209.38 231.34,233.65 241.22,251.29 251.10,262.51 260.98,268.23" fill="none" stroke="#3a1ea8" stroke-width="1.1"/>
<circle cx="201.70" cy="204.80" r="2.45" fill="#c26cff" stroke="#5e14aa" stroke-width="0.8"/>
<circle cx="211.58" cy="209.38" r="2.45" fill="#c26cff" stroke="#5e14aa" stroke-width="0.8"/>
<circle cx="221.46" cy="209.38" r="2.45" fill="#c26cff" stroke="#5e14aa" stroke-width="0.8"/>
<circle cx="231.34" cy="233.65" r="2.45" fill="#c26cff" stroke="#5e14aa" stroke-width="0.8"/>
<circle cx="241.22" cy="251.29" r="2.45" fill="#c26cff" stroke="#5e14aa" stroke-width="0.8"/>
<circle cx="251.10" cy="262.51" r="2.45" fill="#c26cff" stroke="#5e14aa" stroke-width="0.8"/>
<circle cx="260.98" cy="268.23" r="2.45" fill="#c26cff" stroke="#5e14aa" stroke-width="0.8"/>
<g stroke="#b87a4e" stroke-width="1.1"><line x1="211.58" y1="207.55" x2="211.58" y2="211.21"/><line x1="209.18" y1="207.55" x2="213.98" y2="207.55"/><line x1="209.18" y1="211.21" x2="213.98" y2="211.21"/></g>
<g stroke="#b87a4e" stroke-width="1.1"><line x1="221.46" y1="210.53" x2="221.46" y2="215.10"/><line x1="219.06" y1="210.53" x2="223.86" y2="210.53"/><line x1="219.06" y1="215.10" x2="223.86" y2="215.10"/></g>
<g stroke="#b87a4e" stroke-width="1.1"><line x1="231.34" y1="234.57" x2="231.34" y2="239.15"/><line x1="228.94" y1="234.57" x2="233.74" y2="234.57"/><line x1="228.94" y1="239.15" x2="233.74" y2="239.15"/></g>
<g stroke="#b87a4e" stroke-width="1.1"><line x1="241.22" y1="251.75" x2="241.22" y2="256.32"/><line x1="238.82" y1="251.75" x2="243.62" y2="251.75"/><line x1="238.82" y1="256.32" x2="243.62" y2="256.32"/></g>
<g stroke="#b87a4e" stroke-width="1.1"><line x1="251.10" y1="260.68" x2="251.10" y2="264.34"/><line x1="248.70" y1="260.68" x2="253.50" y2="260.68"/><line x1="248.70" y1="264.34" x2="253.50" y2="264.34"/></g>
<g stroke="#b87a4e" stroke-width="1.1"><line x1="260.98" y1="263.88" x2="260.98" y2="266.63"/><line x1="258.58" y1="263.88" x2="263.38" y2="263.88"/><line x1="258.58" y1="266.63" x2="263.38" y2="266.63"/></g>
<polyline points="201.70,204.80 211.58,209.38 221.46,212.81 231.34,236.86 241.22,254.03 251.10,262.51 260.98,265.26" fill="none" stroke="#b0602e" stroke-width="1.1"/>
<circle cx="201.70" cy="204.80" r="2.45" fill="#f07c22" stroke="#a9561c" stroke-width="0.8"/>
<circle cx="211.58" cy="209.38" r="2.45" fill="#f07c22" stroke="#a9561c" stroke-width="0.8"/>
<circle cx="221.46" cy="212.81" r="2.45" fill="#f07c22" stroke="#a9561c" stroke-width="0.8"/>
<circle cx="231.34" cy="236.86" r="2.45" fill="#f07c22" stroke="#a9561c" stroke-width="0.8"/>
<circle cx="241.22" cy="254.03" r="2.45" fill="#f07c22" stroke="#a9561c" stroke-width="0.8"/>
<circle cx="251.10" cy="262.51" r="2.45" fill="#f07c22" stroke="#a9561c" stroke-width="0.8"/>
<circle cx="260.98" cy="265.26" r="2.45" fill="#f07c22" stroke="#a9561c" stroke-width="0.8"/>
<g stroke="#62a448" stroke-width="1.1"><line x1="211.58" y1="208.24" x2="211.58" y2="211.90"/><line x1="209.18" y1="208.24" x2="213.98" y2="208.24"/><line x1="209.18" y1="211.90" x2="213.98" y2="211.90"/></g>
<g stroke="#62a448" stroke-width="1.1"><line x1="221.46" y1="210.07" x2="221.46" y2="214.65"/><line x1="219.06" y1="210.07" x2="223.86" y2="210.07"/><line x1="219.06" y1="214.65" x2="223.86" y2="214.65"/></g>
<g stroke="#62a448" stroke-width="1.1"><line x1="231.34" y1="236.40" x2="231.34" y2="240.98"/><line x1="228.94" y1="236.40" x2="233.74" y2="236.40"/><line x1="228.94" y1="240.98" x2="233.74" y2="240.98"/></g>
<g stroke="#62a448" stroke-width="1.1"><line x1="241.22" y1="251.97" x2="241.22" y2="256.55"/><line x1="238.82" y1="251.97" x2="243.62" y2="251.97"/><line x1="238.82" y1="256.55" x2="243.62" y2="256.55"/></g>
<g stroke="#62a448" stroke-width="1.1"><line x1="251.10" y1="261.13" x2="251.10" y2="264.80"/><line x1="248.70" y1="261.13" x2="253.50" y2="261.13"/><line x1="248.70" y1="264.80" x2="253.50" y2="264.80"/></g>
<g stroke="#62a448" stroke-width="1.1"><line x1="260.98" y1="263.42" x2="260.98" y2="266.17"/><line x1="258.58" y1="263.42" x2="263.38" y2="263.42"/><line x1="258.58" y1="266.17" x2="263.38" y2="266.17"/></g>
<polyline points="201.70,204.80 211.58,210.07 221.46,212.36 231.34,238.69 241.22,254.26 251.10,262.97 260.98,264.80" fill="none" stroke="#58a43c" stroke-width="1.1"/>
<circle cx="201.70" cy="204.80" r="2.45" fill="#5ea86a" stroke="#3f8d36" stroke-width="0.8"/>
<circle cx="211.58" cy="210.07" r="2.45" fill="#5ea86a" stroke="#3f8d36" stroke-width="0.8"/>
<circle cx="221.46" cy="212.36" r="2.45" fill="#5ea86a" stroke="#3f8d36" stroke-width="0.8"/>
<circle cx="231.34" cy="238.69" r="2.45" fill="#5ea86a" stroke="#3f8d36" stroke-width="0.8"/>
<circle cx="241.22" cy="254.26" r="2.45" fill="#5ea86a" stroke="#3f8d36" stroke-width="0.8"/>
<circle cx="251.10" cy="262.97" r="2.45" fill="#5ea86a" stroke="#3f8d36" stroke-width="0.8"/>
<circle cx="260.98" cy="264.80" r="2.45" fill="#5ea86a" stroke="#3f8d36" stroke-width="0.8"/>
<text x="114.56" y="296.60" font-size="9.6" font-weight="bold" text-anchor="middle" fill="#000" >20D10</text>
<line x1="63.50" y1="306.20" x2="63.50" y2="312.20" stroke="#4a8f2a" stroke-width="1.4" stroke-dasharray="1.6 1.4"/>
<path d="M63.50,312.10 L66.40,313.20 L63.50,316.10 L60.60,313.20 Z" fill="#4a8f2a"/>
<line x1="73.95" y1="306.20" x2="73.95" y2="312.20" stroke="#7d1a95" stroke-width="1.4" stroke-dasharray="1.6 1.4"/>
<path d="M73.95,312.10 L76.85,313.20 L73.95,316.10 L71.05,313.20 Z" fill="#7d1a95"/>
<line x1="83.00" y1="306.20" x2="83.00" y2="312.20" stroke="#f08a2a" stroke-width="1.4" stroke-dasharray="1.6 1.4"/>
<path d="M83.00,312.10 L85.90,313.20 L83.00,316.10 L80.10,313.20 Z" fill="#f08a2a"/>
<line x1="46.40" y1="328.70" x2="182.22" y2="328.70" stroke="#000" stroke-width="1.5" stroke-dasharray="1.45 1.55"/>
<line x1="46.40" y1="385.95" x2="182.22" y2="385.95" stroke="#000" stroke-width="1.5" stroke-dasharray="1.45 1.55"/>
<line x1="45.40" y1="305.10" x2="45.40" y2="398.10" stroke="#000" stroke-width="1.5" />
<line x1="41.10" y1="305.80" x2="45.40" y2="305.80" stroke="#000" stroke-width="1.4" />
<text x="38.40" y="308.60" font-size="7.8" font-weight="bold" text-anchor="end" fill="#000" >110</text>
<line x1="41.10" y1="328.70" x2="45.40" y2="328.70" stroke="#000" stroke-width="1.4" />
<text x="38.40" y="331.50" font-size="7.8" font-weight="bold" text-anchor="end" fill="#000" >100</text>
<line x1="41.10" y1="351.60" x2="45.40" y2="351.60" stroke="#000" stroke-width="1.4" />
<text x="38.40" y="354.40" font-size="7.8" font-weight="bold" text-anchor="end" fill="#000" >90</text>
<line x1="41.10" y1="374.50" x2="45.40" y2="374.50" stroke="#000" stroke-width="1.4" />
<text x="38.40" y="377.30" font-size="7.8" font-weight="bold" text-anchor="end" fill="#000" >80</text>
<line x1="41.10" y1="397.40" x2="45.40" y2="397.40" stroke="#000" stroke-width="1.4" />
<text x="38.40" y="400.20" font-size="7.8" font-weight="bold" text-anchor="end" fill="#000" >70</text>
<line x1="44.70" y1="397.40" x2="184.42" y2="397.40" stroke="#000" stroke-width="1.5" />
<line x1="45.40" y1="397.40" x2="45.40" y2="402.10" stroke="#000" stroke-width="1.4" />
<line x1="55.28" y1="397.40" x2="55.28" y2="402.10" stroke="#000" stroke-width="1.4" />
<line x1="65.16" y1="397.40" x2="65.16" y2="402.10" stroke="#000" stroke-width="1.4" />
<line x1="75.04" y1="397.40" x2="75.04" y2="402.10" stroke="#000" stroke-width="1.4" />
<line x1="84.92" y1="397.40" x2="84.92" y2="402.10" stroke="#000" stroke-width="1.4" />
<line x1="94.80" y1="397.40" x2="94.80" y2="402.10" stroke="#000" stroke-width="1.4" />
<line x1="104.68" y1="397.40" x2="104.68" y2="402.10" stroke="#000" stroke-width="1.4" />
<line x1="114.56" y1="397.40" x2="114.56" y2="402.10" stroke="#000" stroke-width="1.4" />
<line x1="124.44" y1="397.40" x2="124.44" y2="402.10" stroke="#000" stroke-width="1.4" />
<line x1="134.32" y1="397.40" x2="134.32" y2="402.10" stroke="#000" stroke-width="1.4" />
<line x1="144.20" y1="397.40" x2="144.20" y2="402.10" stroke="#000" stroke-width="1.4" />
<line x1="154.08" y1="397.40" x2="154.08" y2="402.10" stroke="#000" stroke-width="1.4" />
<line x1="163.96" y1="397.40" x2="163.96" y2="402.10" stroke="#000" stroke-width="1.4" />
<line x1="173.84" y1="397.40" x2="173.84" y2="402.10" stroke="#000" stroke-width="1.4" />
<line x1="183.72" y1="397.40" x2="183.72" y2="402.10" stroke="#000" stroke-width="1.4" />
<g stroke="#111111" stroke-width="1.1"><line x1="55.28" y1="330.99" x2="55.28" y2="337.86"/><line x1="52.88" y1="330.99" x2="57.68" y2="330.99"/><line x1="52.88" y1="337.86" x2="57.68" y2="337.86"/></g>
<g stroke="#111111" stroke-width="1.1"><line x1="65.16" y1="332.59" x2="65.16" y2="346.33"/><line x1="62.76" y1="332.59" x2="67.56" y2="332.59"/><line x1="62.76" y1="346.33" x2="67.56" y2="346.33"/></g>
<g stroke="#111111" stroke-width="1.1"><line x1="75.04" y1="357.32" x2="75.04" y2="368.77"/><line x1="72.64" y1="357.32" x2="77.44" y2="357.32"/><line x1="72.64" y1="368.77" x2="77.44" y2="368.77"/></g>
<g stroke="#111111" stroke-width="1.1"><line x1="84.92" y1="375.19" x2="84.92" y2="384.35"/><line x1="82.52" y1="375.19" x2="87.32" y2="375.19"/><line x1="82.52" y1="384.35" x2="87.32" y2="384.35"/></g>
<g stroke="#111111" stroke-width="1.1"><line x1="94.80" y1="384.12" x2="94.80" y2="389.61"/><line x1="92.40" y1="384.12" x2="97.20" y2="384.12"/><line x1="92.40" y1="389.61" x2="97.20" y2="389.61"/></g>
<g stroke="#111111" stroke-width="1.1"><line x1="104.68" y1="389.38" x2="104.68" y2="393.96"/><line x1="102.28" y1="389.38" x2="107.08" y2="389.38"/><line x1="102.28" y1="393.96" x2="107.08" y2="393.96"/></g>
<polyline points="45.40,328.70 55.28,334.42 65.16,339.46 75.04,363.05 84.92,379.77 94.80,386.87 104.68,391.67" fill="none" stroke="#111111" stroke-width="1.1"/>
<circle cx="45.40" cy="328.70" r="2.45" fill="#111111" stroke="#000000" stroke-width="0.8"/>
<circle cx="55.28" cy="334.42" r="2.45" fill="#111111" stroke="#000000" stroke-width="0.8"/>
<circle cx="65.16" cy="339.46" r="2.45" fill="#111111" stroke="#000000" stroke-width="0.8"/>
<circle cx="75.04" cy="363.05" r="2.45" fill="#111111" stroke="#000000" stroke-width="0.8"/>
<circle cx="84.92" cy="379.77" r="2.45" fill="#111111" stroke="#000000" stroke-width="0.8"/>
<circle cx="94.80" cy="386.87" r="2.45" fill="#111111" stroke="#000000" stroke-width="0.8"/>
<circle cx="104.68" cy="391.67" r="2.45" fill="#111111" stroke="#000000" stroke-width="0.8"/>
<g stroke="#b87a4e" stroke-width="1.1"><line x1="55.28" y1="327.55" x2="55.28" y2="332.13"/><line x1="52.88" y1="327.55" x2="57.68" y2="327.55"/><line x1="52.88" y1="332.13" x2="57.68" y2="332.13"/></g>
<g stroke="#b87a4e" stroke-width="1.1"><line x1="65.16" y1="327.55" x2="65.16" y2="333.05"/><line x1="62.76" y1="327.55" x2="67.56" y2="327.55"/><line x1="62.76" y1="333.05" x2="67.56" y2="333.05"/></g>
<g stroke="#b87a4e" stroke-width="1.1"><line x1="75.04" y1="351.60" x2="75.04" y2="358.47"/><line x1="72.64" y1="351.60" x2="77.44" y2="351.60"/><line x1="72.64" y1="358.47" x2="77.44" y2="358.47"/></g>
<g stroke="#b87a4e" stroke-width="1.1"><line x1="84.92" y1="366.26" x2="84.92" y2="373.13"/><line x1="82.52" y1="366.26" x2="87.32" y2="366.26"/><line x1="82.52" y1="373.13" x2="87.32" y2="373.13"/></g>
<g stroke="#b87a4e" stroke-width="1.1"><line x1="94.80" y1="380.22" x2="94.80" y2="384.80"/><line x1="92.40" y1="380.22" x2="97.20" y2="380.22"/><line x1="92.40" y1="384.80" x2="97.20" y2="384.80"/></g>
<g stroke="#b87a4e" stroke-width="1.1"><line x1="104.68" y1="383.43" x2="104.68" y2="390.30"/><line x1="102.28" y1="383.43" x2="107.08" y2="383.43"/><line x1="102.28" y1="390.30" x2="107.08" y2="390.30"/></g>
<g stroke="#b87a4e" stroke-width="1.1"><line x1="114.56" y1="371.75" x2="114.56" y2="386.87"/><line x1="112.16" y1="371.75" x2="116.96" y2="371.75"/><line x1="112.16" y1="386.87" x2="116.96" y2="386.87"/></g>
<g stroke="#b87a4e" stroke-width="1.1"><line x1="124.44" y1="373.35" x2="124.44" y2="377.94"/><line x1="122.04" y1="373.35" x2="126.84" y2="373.35"/><line x1="122.04" y1="377.94" x2="126.84" y2="377.94"/></g>
<g stroke="#b87a4e" stroke-width="1.1"><line x1="134.32" y1="368.77" x2="134.32" y2="373.35"/><line x1="131.92" y1="368.77" x2="136.72" y2="368.77"/><line x1="131.92" y1="373.35" x2="136.72" y2="373.35"/></g>
<g stroke="#b87a4e" stroke-width="1.1"><line x1="144.20" y1="374.50" x2="144.20" y2="379.08"/><line x1="141.80" y1="374.50" x2="146.60" y2="374.50"/><line x1="141.80" y1="379.08" x2="146.60" y2="379.08"/></g>
<g stroke="#b87a4e" stroke-width="1.1"><line x1="154.08" y1="366.03" x2="154.08" y2="370.61"/><line x1="151.68" y1="366.03" x2="156.48" y2="366.03"/><line x1="151.68" y1="370.61" x2="156.48" y2="370.61"/></g>
<g stroke="#b87a4e" stroke-width="1.1"><line x1="163.96" y1="362.13" x2="163.96" y2="366.71"/><line x1="161.56" y1="362.13" x2="166.36" y2="362.13"/><line x1="161.56" y1="366.71" x2="166.36" y2="366.71"/></g>
<g stroke="#b87a4e" stroke-width="1.1"><line x1="173.84" y1="353.43" x2="173.84" y2="358.01"/><line x1="171.44" y1="353.43" x2="176.24" y2="353.43"/><line x1="171.44" y1="358.01" x2="176.24" y2="358.01"/></g>
<g stroke="#b87a4e" stroke-width="1.1"><line x1="183.72" y1="346.56" x2="183.72" y2="351.14"/><line x1="181.32" y1="346.56" x2="186.12" y2="346.56"/><line x1="181.32" y1="351.14" x2="186.12" y2="351.14"/></g>
<polyline points="45.40,328.70 55.28,329.84 65.16,330.30 75.04,355.03 84.92,369.69 94.80,382.51 104.68,386.87 114.56,379.31 124.44,375.64 134.32,371.06 144.20,376.79 154.08,368.32 163.96,364.42 173.84,355.72 183.72,348.85" fill="none" stroke="#b0602e" stroke-width="1.1"/>
<circle cx="45.40" cy="328.70" r="2.45" fill="#f07c22" stroke="#a9561c" stroke-width="0.8"/>
<circle cx="55.28" cy="329.84" r="2.45" fill="#f07c22" stroke="#a9561c" stroke-width="0.8"/>
<circle cx="65.16" cy="330.30" r="2.45" fill="#f07c22" stroke="#a9561c" stroke-width="0.8"/>
<circle cx="75.04" cy="355.03" r="2.45" fill="#f07c22" stroke="#a9561c" stroke-width="0.8"/>
<circle cx="84.92" cy="369.69" r="2.45" fill="#f07c22" stroke="#a9561c" stroke-width="0.8"/>
<circle cx="94.80" cy="382.51" r="2.45" fill="#f07c22" stroke="#a9561c" stroke-width="0.8"/>
<circle cx="104.68" cy="386.87" r="2.45" fill="#f07c22" stroke="#a9561c" stroke-width="0.8"/>
<circle cx="114.56" cy="379.31" r="2.45" fill="#f07c22" stroke="#a9561c" stroke-width="0.8"/>
<circle cx="124.44" cy="375.64" r="2.45" fill="#f07c22" stroke="#a9561c" stroke-width="0.8"/>
<circle cx="134.32" cy="371.06" r="2.45" fill="#f07c22" stroke="#a9561c" stroke-width="0.8"/>
<circle cx="144.20" cy="376.79" r="2.45" fill="#f07c22" stroke="#a9561c" stroke-width="0.8"/>
<circle cx="154.08" cy="368.32" r="2.45" fill="#f07c22" stroke="#a9561c" stroke-width="0.8"/>
<circle cx="163.96" cy="364.42" r="2.45" fill="#f07c22" stroke="#a9561c" stroke-width="0.8"/>
<circle cx="173.84" cy="355.72" r="2.45" fill="#f07c22" stroke="#a9561c" stroke-width="0.8"/>
<circle cx="183.72" cy="348.85" r="2.45" fill="#f07c22" stroke="#a9561c" stroke-width="0.8"/>
<g stroke="#6a22b8" stroke-width="1.1"><line x1="55.28" y1="323.20" x2="55.28" y2="338.78"/><line x1="52.88" y1="323.20" x2="57.68" y2="323.20"/><line x1="52.88" y1="338.78" x2="57.68" y2="338.78"/></g>
<g stroke="#6a22b8" stroke-width="1.1"><line x1="65.16" y1="323.43" x2="65.16" y2="345.88"/><line x1="62.76" y1="323.43" x2="67.56" y2="323.43"/><line x1="62.76" y1="345.88" x2="67.56" y2="345.88"/></g>
<g stroke="#6a22b8" stroke-width="1.1"><line x1="75.04" y1="356.18" x2="75.04" y2="363.05"/><line x1="72.64" y1="356.18" x2="77.44" y2="356.18"/><line x1="72.64" y1="363.05" x2="77.44" y2="363.05"/></g>
<g stroke="#6a22b8" stroke-width="1.1"><line x1="84.92" y1="372.21" x2="84.92" y2="379.08"/><line x1="82.52" y1="372.21" x2="87.32" y2="372.21"/><line x1="82.52" y1="379.08" x2="87.32" y2="379.08"/></g>
<g stroke="#6a22b8" stroke-width="1.1"><line x1="94.80" y1="381.37" x2="94.80" y2="385.95"/><line x1="92.40" y1="381.37" x2="97.20" y2="381.37"/><line x1="92.40" y1="385.95" x2="97.20" y2="385.95"/></g>
<g stroke="#6a22b8" stroke-width="1.1"><line x1="104.68" y1="379.77" x2="104.68" y2="386.64"/><line x1="102.28" y1="379.77" x2="107.08" y2="379.77"/><line x1="102.28" y1="386.64" x2="107.08" y2="386.64"/></g>
<g stroke="#6a22b8" stroke-width="1.1"><line x1="114.56" y1="371.52" x2="114.56" y2="378.39"/><line x1="112.16" y1="371.52" x2="116.96" y2="371.52"/><line x1="112.16" y1="378.39" x2="116.96" y2="378.39"/></g>
<g stroke="#6a22b8" stroke-width="1.1"><line x1="124.44" y1="371.75" x2="124.44" y2="377.25"/><line x1="122.04" y1="371.75" x2="126.84" y2="371.75"/><line x1="122.04" y1="377.25" x2="126.84" y2="377.25"/></g>
<g stroke="#6a22b8" stroke-width="1.1"><line x1="134.32" y1="366.48" x2="134.32" y2="375.64"/><line x1="131.92" y1="366.48" x2="136.72" y2="366.48"/><line x1="131.92" y1="375.64" x2="136.72" y2="375.64"/></g>
<g stroke="#6a22b8" stroke-width="1.1"><line x1="144.20" y1="366.48" x2="144.20" y2="375.64"/><line x1="141.80" y1="366.48" x2="146.60" y2="366.48"/><line x1="141.80" y1="375.64" x2="146.60" y2="375.64"/></g>
<g stroke="#6a22b8" stroke-width="1.1"><line x1="154.08" y1="360.99" x2="154.08" y2="373.81"/><line x1="151.68" y1="360.99" x2="156.48" y2="360.99"/><line x1="151.68" y1="373.81" x2="156.48" y2="373.81"/></g>
<g stroke="#6a22b8" stroke-width="1.1"><line x1="163.96" y1="347.48" x2="163.96" y2="379.08"/><line x1="161.56" y1="347.48" x2="166.36" y2="347.48"/><line x1="161.56" y1="379.08" x2="166.36" y2="379.08"/></g>
<g stroke="#6a22b8" stroke-width="1.1"><line x1="173.84" y1="336.26" x2="173.84" y2="372.44"/><line x1="171.44" y1="336.26" x2="176.24" y2="336.26"/><line x1="171.44" y1="372.44" x2="176.24" y2="372.44"/></g>
<g stroke="#6a22b8" stroke-width="1.1"><line x1="183.72" y1="328.01" x2="183.72" y2="366.94"/><line x1="181.32" y1="328.01" x2="186.12" y2="328.01"/><line x1="181.32" y1="366.94" x2="186.12" y2="366.94"/></g>
<polyline points="45.40,328.70 55.28,330.99 65.16,334.65 75.04,359.61 84.92,375.64 94.80,383.66 104.68,383.20 114.56,374.96 124.44,374.50 134.32,371.06 144.20,371.06 154.08,367.40 163.96,363.28 173.84,354.35 183.72,347.48" fill="none" stroke="#5a1fc4" stroke-width="1.1"/>
<circle cx="45.40" cy="328.70" r="2.45" fill="#c26cff" stroke="#5e14aa" stroke-width="0.8"/>
<circle cx="55.28" cy="330.99" r="2.45" fill="#c26cff" stroke="#5e14aa" stroke-width="0.8"/>
<circle cx="65.16" cy="334.65" r="2.45" fill="#c26cff" stroke="#5e14aa" stroke-width="0.8"/>
<circle cx="75.04" cy="359.61" r="2.45" fill="#c26cff" stroke="#5e14aa" stroke-width="0.8"/>
<circle cx="84.92" cy="375.64" r="2.45" fill="#c26cff" stroke="#5e14aa" stroke-width="0.8"/>
<circle cx="94.80" cy="383.66" r="2.45" fill="#c26cff" stroke="#5e14aa" stroke-width="0.8"/>
<circle cx="104.68" cy="383.20" r="2.45" fill="#c26cff" stroke="#5e14aa" stroke-width="0.8"/>
<circle cx="114.56" cy="374.96" r="2.45" fill="#c26cff" stroke="#5e14aa" stroke-width="0.8"/>
<circle cx="124.44" cy="374.50" r="2.45" fill="#c26cff" stroke="#5e14aa" stroke-width="0.8"/>
<circle cx="134.32" cy="371.06" r="2.45" fill="#c26cff" stroke="#5e14aa" stroke-width="0.8"/>
<circle cx="144.20" cy="371.06" r="2.45" fill="#c26cff" stroke="#5e14aa" stroke-width="0.8"/>
<circle cx="154.08" cy="367.40" r="2.45" fill="#c26cff" stroke="#5e14aa" stroke-width="0.8"/>
<circle cx="163.96" cy="363.28" r="2.45" fill="#c26cff" stroke="#5e14aa" stroke-width="0.8"/>
<circle cx="173.84" cy="354.35" r="2.45" fill="#c26cff" stroke="#5e14aa" stroke-width="0.8"/>
<circle cx="183.72" cy="347.48" r="2.45" fill="#c26cff" stroke="#5e14aa" stroke-width="0.8"/>
<g stroke="#62a448" stroke-width="1.1"><line x1="55.28" y1="325.04" x2="55.28" y2="330.53"/><line x1="52.88" y1="325.04" x2="57.68" y2="325.04"/><line x1="52.88" y1="330.53" x2="57.68" y2="330.53"/></g>
<g stroke="#62a448" stroke-width="1.1"><line x1="65.16" y1="330.07" x2="65.16" y2="335.57"/><line x1="62.76" y1="330.07" x2="67.56" y2="330.07"/><line x1="62.76" y1="335.57" x2="67.56" y2="335.57"/></g>
<g stroke="#62a448" stroke-width="1.1"><line x1="75.04" y1="353.66" x2="75.04" y2="359.16"/><line x1="72.64" y1="353.66" x2="77.44" y2="353.66"/><line x1="72.64" y1="359.16" x2="77.44" y2="359.16"/></g>
<g stroke="#62a448" stroke-width="1.1"><line x1="84.92" y1="371.75" x2="84.92" y2="377.25"/><line x1="82.52" y1="371.75" x2="87.32" y2="371.75"/><line x1="82.52" y1="377.25" x2="87.32" y2="377.25"/></g>
<g stroke="#62a448" stroke-width="1.1"><line x1="94.80" y1="377.48" x2="94.80" y2="382.97"/><line x1="92.40" y1="377.48" x2="97.20" y2="377.48"/><line x1="92.40" y1="382.97" x2="97.20" y2="382.97"/></g>
<g stroke="#62a448" stroke-width="1.1"><line x1="104.68" y1="370.61" x2="104.68" y2="382.06"/><line x1="102.28" y1="370.61" x2="107.08" y2="370.61"/><line x1="102.28" y1="382.06" x2="107.08" y2="382.06"/></g>
<g stroke="#62a448" stroke-width="1.1"><line x1="114.56" y1="360.99" x2="114.56" y2="381.60"/><line x1="112.16" y1="360.99" x2="116.96" y2="360.99"/><line x1="112.16" y1="381.60" x2="116.96" y2="381.60"/></g>
<g stroke="#62a448" stroke-width="1.1"><line x1="124.44" y1="353.43" x2="124.44" y2="369.92"/><line x1="122.04" y1="353.43" x2="126.84" y2="353.43"/><line x1="122.04" y1="369.92" x2="126.84" y2="369.92"/></g>
<g stroke="#62a448" stroke-width="1.1"><line x1="134.32" y1="339.46" x2="134.32" y2="362.36"/><line x1="131.92" y1="339.46" x2="136.72" y2="339.46"/><line x1="131.92" y1="362.36" x2="136.72" y2="362.36"/></g>
<g stroke="#62a448" stroke-width="1.1"><line x1="144.20" y1="337.63" x2="144.20" y2="361.45"/><line x1="141.80" y1="337.63" x2="146.60" y2="337.63"/><line x1="141.80" y1="361.45" x2="146.60" y2="361.45"/></g>
<g stroke="#62a448" stroke-width="1.1"><line x1="154.08" y1="332.36" x2="154.08" y2="354.81"/><line x1="151.68" y1="332.36" x2="156.48" y2="332.36"/><line x1="151.68" y1="354.81" x2="156.48" y2="354.81"/></g>
<g stroke="#62a448" stroke-width="1.1"><line x1="163.96" y1="330.53" x2="163.96" y2="348.85"/><line x1="161.56" y1="330.53" x2="166.36" y2="330.53"/><line x1="161.56" y1="348.85" x2="166.36" y2="348.85"/></g>
<g stroke="#62a448" stroke-width="1.1"><line x1="173.84" y1="324.12" x2="173.84" y2="341.98"/><line x1="171.44" y1="324.12" x2="176.24" y2="324.12"/><line x1="171.44" y1="341.98" x2="176.24" y2="341.98"/></g>
<g stroke="#62a448" stroke-width="1.1"><line x1="183.72" y1="323.43" x2="183.72" y2="337.17"/><line x1="181.32" y1="323.43" x2="186.12" y2="323.43"/><line x1="181.32" y1="337.17" x2="186.12" y2="337.17"/></g>
<polyline points="45.40,328.70 55.28,327.78 65.16,332.82 75.04,356.41 84.92,374.50 94.80,380.22 104.68,376.33 114.56,371.29 124.44,361.68 134.32,350.91 144.20,349.54 154.08,343.58 163.96,339.69 173.84,333.05 183.72,330.30" fill="none" stroke="#58a43c" stroke-width="1.1"/>
<circle cx="45.40" cy="328.70" r="2.45" fill="#5ea86a" stroke="#3f8d36" stroke-width="0.8"/>
<circle cx="55.28" cy="327.78" r="2.45" fill="#5ea86a" stroke="#3f8d36" stroke-width="0.8"/>
<circle cx="65.16" cy="332.82" r="2.45" fill="#5ea86a" stroke="#3f8d36" stroke-width="0.8"/>
<circle cx="75.04" cy="356.41" r="2.45" fill="#5ea86a" stroke="#3f8d36" stroke-width="0.8"/>
<circle cx="84.92" cy="374.50" r="2.45" fill="#5ea86a" stroke="#3f8d36" stroke-width="0.8"/>
<circle cx="94.80" cy="380.22" r="2.45" fill="#5ea86a" stroke="#3f8d36" stroke-width="0.8"/>
<circle cx="104.68" cy="376.33" r="2.45" fill="#5ea86a" stroke="#3f8d36" stroke-width="0.8"/>
<circle cx="114.56" cy="371.29" r="2.45" fill="#5ea86a" stroke="#3f8d36" stroke-width="0.8"/>
<circle cx="124.44" cy="361.68" r="2.45" fill="#5ea86a" stroke="#3f8d36" stroke-width="0.8"/>
<circle cx="134.32" cy="350.91" r="2.45" fill="#5ea86a" stroke="#3f8d36" stroke-width="0.8"/>
<circle cx="144.20" cy="349.54" r="2.45" fill="#5ea86a" stroke="#3f8d36" stroke-width="0.8"/>
<circle cx="154.08" cy="343.58" r="2.45" fill="#5ea86a" stroke="#3f8d36" stroke-width="0.8"/>
<circle cx="163.96" cy="339.69" r="2.45" fill="#5ea86a" stroke="#3f8d36" stroke-width="0.8"/>
<circle cx="173.84" cy="333.05" r="2.45" fill="#5ea86a" stroke="#3f8d36" stroke-width="0.8"/>
<circle cx="183.72" cy="330.30" r="2.45" fill="#5ea86a" stroke="#3f8d36" stroke-width="0.8"/>
<text x="270.76" y="296.80" font-size="9.6" font-weight="bold" text-anchor="middle" fill="#000" >12G1</text>
<line x1="220.76" y1="306.20" x2="220.76" y2="312.20" stroke="#4a8f2a" stroke-width="1.4" stroke-dasharray="1.6 1.4"/>
<path d="M220.76,312.10 L223.66,313.20 L220.76,316.10 L217.86,313.20 Z" fill="#4a8f2a"/>
<line x1="231.21" y1="306.20" x2="231.21" y2="312.20" stroke="#7d1a95" stroke-width="1.4" stroke-dasharray="1.6 1.4"/>
<path d="M231.21,312.10 L234.11,313.20 L231.21,316.10 L228.31,313.20 Z" fill="#7d1a95"/>
<line x1="240.26" y1="306.20" x2="240.26" y2="312.20" stroke="#f08a2a" stroke-width="1.4" stroke-dasharray="1.6 1.4"/>
<path d="M240.26,312.10 L243.16,313.20 L240.26,316.10 L237.36,313.20 Z" fill="#f08a2a"/>
<line x1="202.60" y1="328.10" x2="338.42" y2="328.10" stroke="#000" stroke-width="1.5" stroke-dasharray="1.45 1.55"/>
<line x1="202.60" y1="385.35" x2="338.42" y2="385.35" stroke="#000" stroke-width="1.5" stroke-dasharray="1.45 1.55"/>
<line x1="201.60" y1="304.50" x2="201.60" y2="397.50" stroke="#000" stroke-width="1.5" />
<line x1="197.30" y1="305.20" x2="201.60" y2="305.20" stroke="#000" stroke-width="1.4" />
<line x1="197.30" y1="328.10" x2="201.60" y2="328.10" stroke="#000" stroke-width="1.4" />
<line x1="197.30" y1="351.00" x2="201.60" y2="351.00" stroke="#000" stroke-width="1.4" />
<line x1="197.30" y1="373.90" x2="201.60" y2="373.90" stroke="#000" stroke-width="1.4" />
<line x1="197.30" y1="396.80" x2="201.60" y2="396.80" stroke="#000" stroke-width="1.4" />
<line x1="200.90" y1="396.80" x2="340.62" y2="396.80" stroke="#000" stroke-width="1.5" />
<line x1="201.60" y1="396.80" x2="201.60" y2="401.50" stroke="#000" stroke-width="1.4" />
<text transform="translate(202.80,409.40) rotate(-45)" font-size="8.0" font-weight="bold" text-anchor="end">0</text>
<line x1="211.48" y1="396.80" x2="211.48" y2="401.50" stroke="#000" stroke-width="1.4" />
<text transform="translate(212.68,409.40) rotate(-45)" font-size="8.0" font-weight="bold" text-anchor="end">1</text>
<line x1="221.36" y1="396.80" x2="221.36" y2="401.50" stroke="#000" stroke-width="1.4" />
<text transform="translate(222.56,409.40) rotate(-45)" font-size="8.0" font-weight="bold" text-anchor="end">2</text>
<line x1="231.24" y1="396.80" x2="231.24" y2="401.50" stroke="#000" stroke-width="1.4" />
<text transform="translate(232.44,409.40) rotate(-45)" font-size="8.0" font-weight="bold" text-anchor="end">3</text>
<line x1="241.12" y1="396.80" x2="241.12" y2="401.50" stroke="#000" stroke-width="1.4" />
<text transform="translate(242.32,409.40) rotate(-45)" font-size="8.0" font-weight="bold" text-anchor="end">4</text>
<line x1="251.00" y1="396.80" x2="251.00" y2="401.50" stroke="#000" stroke-width="1.4" />
<text transform="translate(252.20,409.40) rotate(-45)" font-size="8.0" font-weight="bold" text-anchor="end">5</text>
<line x1="260.88" y1="396.80" x2="260.88" y2="401.50" stroke="#000" stroke-width="1.4" />
<text transform="translate(262.08,409.40) rotate(-45)" font-size="8.0" font-weight="bold" text-anchor="end">6</text>
<line x1="270.76" y1="396.80" x2="270.76" y2="401.50" stroke="#000" stroke-width="1.4" />
<text transform="translate(271.96,409.40) rotate(-45)" font-size="8.0" font-weight="bold" text-anchor="end">7</text>
<line x1="280.64" y1="396.80" x2="280.64" y2="401.50" stroke="#000" stroke-width="1.4" />
<text transform="translate(281.84,409.40) rotate(-45)" font-size="8.0" font-weight="bold" text-anchor="end">8</text>
<line x1="290.52" y1="396.80" x2="290.52" y2="401.50" stroke="#000" stroke-width="1.4" />
<text transform="translate(291.72,409.40) rotate(-45)" font-size="8.0" font-weight="bold" text-anchor="end">9</text>
<line x1="300.40" y1="396.80" x2="300.40" y2="401.50" stroke="#000" stroke-width="1.4" />
<text transform="translate(301.60,409.40) rotate(-45)" font-size="8.0" font-weight="bold" text-anchor="end">10</text>
<line x1="310.28" y1="396.80" x2="310.28" y2="401.50" stroke="#000" stroke-width="1.4" />
<text transform="translate(311.48,409.40) rotate(-45)" font-size="8.0" font-weight="bold" text-anchor="end">11</text>
<line x1="320.16" y1="396.80" x2="320.16" y2="401.50" stroke="#000" stroke-width="1.4" />
<text transform="translate(321.36,409.40) rotate(-45)" font-size="8.0" font-weight="bold" text-anchor="end">12</text>
<line x1="330.04" y1="396.80" x2="330.04" y2="401.50" stroke="#000" stroke-width="1.4" />
<text transform="translate(331.24,409.40) rotate(-45)" font-size="8.0" font-weight="bold" text-anchor="end">13</text>
<line x1="339.92" y1="396.80" x2="339.92" y2="401.50" stroke="#000" stroke-width="1.4" />
<text transform="translate(341.12,409.40) rotate(-45)" font-size="8.0" font-weight="bold" text-anchor="end">14</text>
<text x="270.76" y="429.90" font-size="9.1" font-weight="bold" text-anchor="middle" fill="#000" >Days post infection</text>
<g stroke="#111111" stroke-width="1.1"><line x1="211.48" y1="329.25" x2="211.48" y2="336.12"/><line x1="209.08" y1="329.25" x2="213.88" y2="329.25"/><line x1="209.08" y1="336.12" x2="213.88" y2="336.12"/></g>
<g stroke="#111111" stroke-width="1.1"><line x1="221.36" y1="331.31" x2="221.36" y2="345.50"/><line x1="218.96" y1="331.31" x2="223.76" y2="331.31"/><line x1="218.96" y1="345.50" x2="223.76" y2="345.50"/></g>
<g stroke="#111111" stroke-width="1.1"><line x1="231.24" y1="352.83" x2="231.24" y2="367.49"/><line x1="228.84" y1="352.83" x2="233.64" y2="352.83"/><line x1="228.84" y1="367.49" x2="233.64" y2="367.49"/></g>
<g stroke="#111111" stroke-width="1.1"><line x1="241.12" y1="373.90" x2="241.12" y2="380.77"/><line x1="238.72" y1="373.90" x2="243.52" y2="373.90"/><line x1="238.72" y1="380.77" x2="243.52" y2="380.77"/></g>
<g stroke="#111111" stroke-width="1.1"><line x1="251.00" y1="383.75" x2="251.00" y2="389.24"/><line x1="248.60" y1="383.75" x2="253.40" y2="383.75"/><line x1="248.60" y1="389.24" x2="253.40" y2="389.24"/></g>
<g stroke="#111111" stroke-width="1.1"><line x1="260.88" y1="388.10" x2="260.88" y2="392.68"/><line x1="258.48" y1="388.10" x2="263.28" y2="388.10"/><line x1="258.48" y1="392.68" x2="263.28" y2="392.68"/></g>
<polyline points="201.60,328.10 211.48,332.68 221.36,338.41 231.24,360.16 241.12,377.34 251.00,386.50 260.88,390.39" fill="none" stroke="#111111" stroke-width="1.1"/>
<circle cx="201.60" cy="328.10" r="2.45" fill="#ffffff" stroke="#000000" stroke-width="0.8"/>
<circle cx="211.48" cy="332.68" r="2.45" fill="#ffffff" stroke="#000000" stroke-width="0.8"/>
<circle cx="221.36" cy="338.41" r="2.45" fill="#ffffff" stroke="#000000" stroke-width="0.8"/>
<circle cx="231.24" cy="360.16" r="2.45" fill="#ffffff" stroke="#000000" stroke-width="0.8"/>
<circle cx="241.12" cy="377.34" r="2.45" fill="#ffffff" stroke="#000000" stroke-width="0.8"/>
<circle cx="251.00" cy="386.50" r="2.45" fill="#ffffff" stroke="#000000" stroke-width="0.8"/>
<circle cx="260.88" cy="390.39" r="2.45" fill="#ffffff" stroke="#000000" stroke-width="0.8"/>
<g stroke="#6a22b8" stroke-width="1.1"><line x1="211.48" y1="330.16" x2="211.48" y2="337.49"/><line x1="209.08" y1="330.16" x2="213.88" y2="330.16"/><line x1="209.08" y1="337.49" x2="213.88" y2="337.49"/></g>
<g stroke="#6a22b8" stroke-width="1.1"><line x1="221.36" y1="328.79" x2="221.36" y2="334.28"/><line x1="218.96" y1="328.79" x2="223.76" y2="328.79"/><line x1="218.96" y1="334.28" x2="223.76" y2="334.28"/></g>
<g stroke="#6a22b8" stroke-width="1.1"><line x1="231.24" y1="355.35" x2="231.24" y2="362.22"/><line x1="228.84" y1="355.35" x2="233.64" y2="355.35"/><line x1="228.84" y1="362.22" x2="233.64" y2="362.22"/></g>
<g stroke="#6a22b8" stroke-width="1.1"><line x1="241.12" y1="371.61" x2="241.12" y2="376.19"/><line x1="238.72" y1="371.61" x2="243.52" y2="371.61"/><line x1="238.72" y1="376.19" x2="243.52" y2="376.19"/></g>
<g stroke="#6a22b8" stroke-width="1.1"><line x1="251.00" y1="368.40" x2="251.00" y2="385.81"/><line x1="248.60" y1="368.40" x2="253.40" y2="368.40"/><line x1="248.60" y1="385.81" x2="253.40" y2="385.81"/></g>
<g stroke="#6a22b8" stroke-width="1.1"><line x1="260.88" y1="363.14" x2="260.88" y2="370.47"/><line x1="258.48" y1="363.14" x2="263.28" y2="363.14"/><line x1="258.48" y1="370.47" x2="263.28" y2="370.47"/></g>
<g stroke="#6a22b8" stroke-width="1.1"><line x1="270.76" y1="360.16" x2="270.76" y2="365.66"/><line x1="268.36" y1="360.16" x2="273.16" y2="360.16"/><line x1="268.36" y1="365.66" x2="273.16" y2="365.66"/></g>
<g stroke="#6a22b8" stroke-width="1.1"><line x1="280.64" y1="357.87" x2="280.64" y2="365.20"/><line x1="278.24" y1="357.87" x2="283.04" y2="357.87"/><line x1="278.24" y1="365.20" x2="283.04" y2="365.20"/></g>
<g stroke="#6a22b8" stroke-width="1.1"><line x1="290.52" y1="348.71" x2="290.52" y2="354.21"/><line x1="288.12" y1="348.71" x2="292.92" y2="348.71"/><line x1="288.12" y1="354.21" x2="292.92" y2="354.21"/></g>
<g stroke="#6a22b8" stroke-width="1.1"><line x1="300.40" y1="341.84" x2="300.40" y2="354.66"/><line x1="298.00" y1="341.84" x2="302.80" y2="341.84"/><line x1="298.00" y1="354.66" x2="302.80" y2="354.66"/></g>
<g stroke="#6a22b8" stroke-width="1.1"><line x1="310.28" y1="341.38" x2="310.28" y2="352.37"/><line x1="307.88" y1="341.38" x2="312.68" y2="341.38"/><line x1="307.88" y1="352.37" x2="312.68" y2="352.37"/></g>
<g stroke="#6a22b8" stroke-width="1.1"><line x1="320.16" y1="341.61" x2="320.16" y2="350.77"/><line x1="317.76" y1="341.61" x2="322.56" y2="341.61"/><line x1="317.76" y1="350.77" x2="322.56" y2="350.77"/></g>
<g stroke="#6a22b8" stroke-width="1.1"><line x1="330.04" y1="327.64" x2="330.04" y2="335.89"/><line x1="327.64" y1="327.64" x2="332.44" y2="327.64"/><line x1="327.64" y1="335.89" x2="332.44" y2="335.89"/></g>
<g stroke="#6a22b8" stroke-width="1.1"><line x1="339.92" y1="326.96" x2="339.92" y2="337.03"/><line x1="337.52" y1="326.96" x2="342.32" y2="326.96"/><line x1="337.52" y1="337.03" x2="342.32" y2="337.03"/></g>
<polyline points="201.60,328.10 211.48,333.82 221.36,331.54 231.24,358.79 241.12,373.90 251.00,377.11 260.88,366.80 270.76,362.91 280.64,361.53 290.52,351.46 300.40,348.25 310.28,346.88 320.16,346.19 330.04,331.76 339.92,331.99" fill="none" stroke="#5a1fc4" stroke-width="1.1"/>
<circle cx="201.60" cy="328.10" r="2.45" fill="#c26cff" stroke="#5e14aa" stroke-width="0.8"/>
<circle cx="211.48" cy="333.82" r="2.45" fill="#c26cff" stroke="#5e14aa" stroke-width="0.8"/>
<circle cx="221.36" cy="331.54" r="2.45" fill="#c26cff" stroke="#5e14aa" stroke-width="0.8"/>
<circle cx="231.24" cy="358.79" r="2.45" fill="#c26cff" stroke="#5e14aa" stroke-width="0.8"/>
<circle cx="241.12" cy="373.90" r="2.45" fill="#c26cff" stroke="#5e14aa" stroke-width="0.8"/>
<circle cx="251.00" cy="377.11" r="2.45" fill="#c26cff" stroke="#5e14aa" stroke-width="0.8"/>
<circle cx="260.88" cy="366.80" r="2.45" fill="#c26cff" stroke="#5e14aa" stroke-width="0.8"/>
<circle cx="270.76" cy="362.91" r="2.45" fill="#c26cff" stroke="#5e14aa" stroke-width="0.8"/>
<circle cx="280.64" cy="361.53" r="2.45" fill="#c26cff" stroke="#5e14aa" stroke-width="0.8"/>
<circle cx="290.52" cy="351.46" r="2.45" fill="#c26cff" stroke="#5e14aa" stroke-width="0.8"/>
<circle cx="300.40" cy="348.25" r="2.45" fill="#c26cff" stroke="#5e14aa" stroke-width="0.8"/>
<circle cx="310.28" cy="346.88" r="2.45" fill="#c26cff" stroke="#5e14aa" stroke-width="0.8"/>
<circle cx="320.16" cy="346.19" r="2.45" fill="#c26cff" stroke="#5e14aa" stroke-width="0.8"/>
<circle cx="330.04" cy="331.76" r="2.45" fill="#c26cff" stroke="#5e14aa" stroke-width="0.8"/>
<circle cx="339.92" cy="331.99" r="2.45" fill="#c26cff" stroke="#5e14aa" stroke-width="0.8"/>
<g stroke="#b87a4e" stroke-width="1.1"><line x1="211.48" y1="328.10" x2="211.48" y2="332.68"/><line x1="209.08" y1="328.10" x2="213.88" y2="328.10"/><line x1="209.08" y1="332.68" x2="213.88" y2="332.68"/></g>
<g stroke="#b87a4e" stroke-width="1.1"><line x1="221.36" y1="329.93" x2="221.36" y2="335.43"/><line x1="218.96" y1="329.93" x2="223.76" y2="329.93"/><line x1="218.96" y1="335.43" x2="223.76" y2="335.43"/></g>
<g stroke="#b87a4e" stroke-width="1.1"><line x1="231.24" y1="347.79" x2="231.24" y2="356.95"/><line x1="228.84" y1="347.79" x2="233.64" y2="347.79"/><line x1="228.84" y1="356.95" x2="233.64" y2="356.95"/></g>
<g stroke="#b87a4e" stroke-width="1.1"><line x1="241.12" y1="371.61" x2="241.12" y2="376.19"/><line x1="238.72" y1="371.61" x2="243.52" y2="371.61"/><line x1="238.72" y1="376.19" x2="243.52" y2="376.19"/></g>
<g stroke="#b87a4e" stroke-width="1.1"><line x1="251.00" y1="380.77" x2="251.00" y2="385.35"/><line x1="248.60" y1="380.77" x2="253.40" y2="380.77"/><line x1="248.60" y1="385.35" x2="253.40" y2="385.35"/></g>
<g stroke="#b87a4e" stroke-width="1.1"><line x1="260.88" y1="383.75" x2="260.88" y2="389.24"/><line x1="258.48" y1="383.75" x2="263.28" y2="383.75"/><line x1="258.48" y1="389.24" x2="263.28" y2="389.24"/></g>
<g stroke="#b87a4e" stroke-width="1.1"><line x1="270.76" y1="371.38" x2="270.76" y2="378.71"/><line x1="268.36" y1="371.38" x2="273.16" y2="371.38"/><line x1="268.36" y1="378.71" x2="273.16" y2="378.71"/></g>
<g stroke="#b87a4e" stroke-width="1.1"><line x1="280.64" y1="366.57" x2="280.64" y2="372.07"/><line x1="278.24" y1="366.57" x2="283.04" y2="366.57"/><line x1="278.24" y1="372.07" x2="283.04" y2="372.07"/></g>
<g stroke="#b87a4e" stroke-width="1.1"><line x1="290.52" y1="362.68" x2="290.52" y2="368.18"/><line x1="288.12" y1="362.68" x2="292.92" y2="362.68"/><line x1="288.12" y1="368.18" x2="292.92" y2="368.18"/></g>
<g stroke="#b87a4e" stroke-width="1.1"><line x1="300.40" y1="358.56" x2="300.40" y2="365.43"/><line x1="298.00" y1="358.56" x2="302.80" y2="358.56"/><line x1="298.00" y1="365.43" x2="302.80" y2="365.43"/></g>
<g stroke="#b87a4e" stroke-width="1.1"><line x1="310.28" y1="360.62" x2="310.28" y2="367.49"/><line x1="307.88" y1="360.62" x2="312.68" y2="360.62"/><line x1="307.88" y1="367.49" x2="312.68" y2="367.49"/></g>
<g stroke="#b87a4e" stroke-width="1.1"><line x1="320.16" y1="351.00" x2="320.16" y2="362.45"/><line x1="317.76" y1="351.00" x2="322.56" y2="351.00"/><line x1="317.76" y1="362.45" x2="322.56" y2="362.45"/></g>
<g stroke="#b87a4e" stroke-width="1.1"><line x1="330.04" y1="341.84" x2="330.04" y2="348.25"/><line x1="327.64" y1="341.84" x2="332.44" y2="341.84"/><line x1="327.64" y1="348.25" x2="332.44" y2="348.25"/></g>
<g stroke="#b87a4e" stroke-width="1.1"><line x1="339.92" y1="335.89" x2="339.92" y2="342.30"/><line x1="337.52" y1="335.89" x2="342.32" y2="335.89"/><line x1="337.52" y1="342.30" x2="342.32" y2="342.30"/></g>
<polyline points="201.60,328.10 211.48,330.39 221.36,332.68 231.24,352.37 241.12,373.90 251.00,383.06 260.88,386.50 270.76,375.05 280.64,369.32 290.52,365.43 300.40,361.99 310.28,364.05 320.16,356.73 330.04,345.05 339.92,339.09" fill="none" stroke="#b0602e" stroke-width="1.1"/>
<circle cx="201.60" cy="328.10" r="2.45" fill="#f07c22" stroke="#a9561c" stroke-width="0.8"/>
<circle cx="211.48" cy="330.39" r="2.45" fill="#f07c22" stroke="#a9561c" stroke-width="0.8"/>
<circle cx="221.36" cy="332.68" r="2.45" fill="#f07c22" stroke="#a9561c" stroke-width="0.8"/>
<circle cx="231.24" cy="352.37" r="2.45" fill="#f07c22" stroke="#a9561c" stroke-width="0.8"/>
<circle cx="241.12" cy="373.90" r="2.45" fill="#f07c22" stroke="#a9561c" stroke-width="0.8"/>
<circle cx="251.00" cy="383.06" r="2.45" fill="#f07c22" stroke="#a9561c" stroke-width="0.8"/>
<circle cx="260.88" cy="386.50" r="2.45" fill="#f07c22" stroke="#a9561c" stroke-width="0.8"/>
<circle cx="270.76" cy="375.05" r="2.45" fill="#f07c22" stroke="#a9561c" stroke-width="0.8"/>
<circle cx="280.64" cy="369.32" r="2.45" fill="#f07c22" stroke="#a9561c" stroke-width="0.8"/>
<circle cx="290.52" cy="365.43" r="2.45" fill="#f07c22" stroke="#a9561c" stroke-width="0.8"/>
<circle cx="300.40" cy="361.99" r="2.45" fill="#f07c22" stroke="#a9561c" stroke-width="0.8"/>
<circle cx="310.28" cy="364.05" r="2.45" fill="#f07c22" stroke="#a9561c" stroke-width="0.8"/>
<circle cx="320.16" cy="356.73" r="2.45" fill="#f07c22" stroke="#a9561c" stroke-width="0.8"/>
<circle cx="330.04" cy="345.05" r="2.45" fill="#f07c22" stroke="#a9561c" stroke-width="0.8"/>
<circle cx="339.92" cy="339.09" r="2.45" fill="#f07c22" stroke="#a9561c" stroke-width="0.8"/>
<g stroke="#62a448" stroke-width="1.1"><line x1="211.48" y1="326.73" x2="211.48" y2="331.31"/><line x1="209.08" y1="326.73" x2="213.88" y2="326.73"/><line x1="209.08" y1="331.31" x2="213.88" y2="331.31"/></g>
<g stroke="#62a448" stroke-width="1.1"><line x1="221.36" y1="322.38" x2="221.36" y2="339.78"/><line x1="218.96" y1="322.38" x2="223.76" y2="322.38"/><line x1="218.96" y1="339.78" x2="223.76" y2="339.78"/></g>
<g stroke="#62a448" stroke-width="1.1"><line x1="231.24" y1="352.60" x2="231.24" y2="358.10"/><line x1="228.84" y1="352.60" x2="233.64" y2="352.60"/><line x1="228.84" y1="358.10" x2="233.64" y2="358.10"/></g>
<g stroke="#62a448" stroke-width="1.1"><line x1="241.12" y1="370.92" x2="241.12" y2="375.50"/><line x1="238.72" y1="370.92" x2="243.52" y2="370.92"/><line x1="238.72" y1="375.50" x2="243.52" y2="375.50"/></g>
<g stroke="#62a448" stroke-width="1.1"><line x1="251.00" y1="377.11" x2="251.00" y2="382.60"/><line x1="248.60" y1="377.11" x2="253.40" y2="377.11"/><line x1="248.60" y1="382.60" x2="253.40" y2="382.60"/></g>
<g stroke="#62a448" stroke-width="1.1"><line x1="260.88" y1="379.85" x2="260.88" y2="386.72"/><line x1="258.48" y1="379.85" x2="263.28" y2="379.85"/><line x1="258.48" y1="386.72" x2="263.28" y2="386.72"/></g>
<g stroke="#62a448" stroke-width="1.1"><line x1="270.76" y1="373.21" x2="270.76" y2="380.08"/><line x1="268.36" y1="373.21" x2="273.16" y2="373.21"/><line x1="268.36" y1="380.08" x2="273.16" y2="380.08"/></g>
<g stroke="#62a448" stroke-width="1.1"><line x1="280.64" y1="368.63" x2="280.64" y2="375.50"/><line x1="278.24" y1="368.63" x2="283.04" y2="368.63"/><line x1="278.24" y1="375.50" x2="283.04" y2="375.50"/></g>
<g stroke="#62a448" stroke-width="1.1"><line x1="290.52" y1="361.31" x2="290.52" y2="369.55"/><line x1="288.12" y1="361.31" x2="292.92" y2="361.31"/><line x1="288.12" y1="369.55" x2="292.92" y2="369.55"/></g>
<g stroke="#62a448" stroke-width="1.1"><line x1="300.40" y1="356.50" x2="300.40" y2="366.57"/><line x1="298.00" y1="356.50" x2="302.80" y2="356.50"/><line x1="298.00" y1="366.57" x2="302.80" y2="366.57"/></g>
<g stroke="#62a448" stroke-width="1.1"><line x1="310.28" y1="351.23" x2="310.28" y2="361.31"/><line x1="307.88" y1="351.23" x2="312.68" y2="351.23"/><line x1="307.88" y1="361.31" x2="312.68" y2="361.31"/></g>
<g stroke="#62a448" stroke-width="1.1"><line x1="320.16" y1="342.30" x2="320.16" y2="351.46"/><line x1="317.76" y1="342.30" x2="322.56" y2="342.30"/><line x1="317.76" y1="351.46" x2="322.56" y2="351.46"/></g>
<g stroke="#62a448" stroke-width="1.1"><line x1="330.04" y1="335.20" x2="330.04" y2="346.65"/><line x1="327.64" y1="335.20" x2="332.44" y2="335.20"/><line x1="327.64" y1="346.65" x2="332.44" y2="346.65"/></g>
<g stroke="#62a448" stroke-width="1.1"><line x1="339.92" y1="331.31" x2="339.92" y2="344.13"/><line x1="337.52" y1="331.31" x2="342.32" y2="331.31"/><line x1="337.52" y1="344.13" x2="342.32" y2="344.13"/></g>
<polyline points="201.60,328.10 211.48,329.02 221.36,331.08 231.24,355.35 241.12,373.21 251.00,379.85 260.88,383.29 270.76,376.65 280.64,372.07 290.52,365.43 300.40,361.53 310.28,356.27 320.16,346.88 330.04,340.92 339.92,337.72" fill="none" stroke="#58a43c" stroke-width="1.1"/>
<circle cx="201.60" cy="328.10" r="2.45" fill="#5ea86a" stroke="#3f8d36" stroke-width="0.8"/>
<circle cx="211.48" cy="329.02" r="2.45" fill="#5ea86a" stroke="#3f8d36" stroke-width="0.8"/>
<circle cx="221.36" cy="331.08" r="2.45" fill="#5ea86a" stroke="#3f8d36" stroke-width="0.8"/>
<circle cx="231.24" cy="355.35" r="2.45" fill="#5ea86a" stroke="#3f8d36" stroke-width="0.8"/>
<circle cx="241.12" cy="373.21" r="2.45" fill="#5ea86a" stroke="#3f8d36" stroke-width="0.8"/>
<circle cx="251.00" cy="379.85" r="2.45" fill="#5ea86a" stroke="#3f8d36" stroke-width="0.8"/>
<circle cx="260.88" cy="383.29" r="2.45" fill="#5ea86a" stroke="#3f8d36" stroke-width="0.8"/>
<circle cx="270.76" cy="376.65" r="2.45" fill="#5ea86a" stroke="#3f8d36" stroke-width="0.8"/>
<circle cx="280.64" cy="372.07" r="2.45" fill="#5ea86a" stroke="#3f8d36" stroke-width="0.8"/>
<circle cx="290.52" cy="365.43" r="2.45" fill="#5ea86a" stroke="#3f8d36" stroke-width="0.8"/>
<circle cx="300.40" cy="361.53" r="2.45" fill="#5ea86a" stroke="#3f8d36" stroke-width="0.8"/>
<circle cx="310.28" cy="356.27" r="2.45" fill="#5ea86a" stroke="#3f8d36" stroke-width="0.8"/>
<circle cx="320.16" cy="346.88" r="2.45" fill="#5ea86a" stroke="#3f8d36" stroke-width="0.8"/>
<circle cx="330.04" cy="340.92" r="2.45" fill="#5ea86a" stroke="#3f8d36" stroke-width="0.8"/>
<circle cx="339.92" cy="337.72" r="2.45" fill="#5ea86a" stroke="#3f8d36" stroke-width="0.8"/>
<text x="112.56" y="419.80" font-size="9.6" font-weight="bold" text-anchor="middle" fill="#000" >6G1</text>
<line x1="63.50" y1="427.60" x2="63.50" y2="433.60" stroke="#4a8f2a" stroke-width="1.4" stroke-dasharray="1.6 1.4"/>
<path d="M63.50,433.50 L66.40,434.60 L63.50,437.50 L60.60,434.60 Z" fill="#4a8f2a"/>
<line x1="73.95" y1="427.60" x2="73.95" y2="433.60" stroke="#7d1a95" stroke-width="1.4" stroke-dasharray="1.6 1.4"/>
<path d="M73.95,433.50 L76.85,434.60 L73.95,437.50 L71.05,434.60 Z" fill="#7d1a95"/>
<line x1="83.00" y1="427.60" x2="83.00" y2="433.60" stroke="#f08a2a" stroke-width="1.4" stroke-dasharray="1.6 1.4"/>
<path d="M83.00,433.50 L85.90,434.60 L83.00,437.50 L80.10,434.60 Z" fill="#f08a2a"/>
<line x1="44.40" y1="450.10" x2="180.22" y2="450.10" stroke="#000" stroke-width="1.5" stroke-dasharray="1.45 1.55"/>
<line x1="44.40" y1="507.35" x2="180.22" y2="507.35" stroke="#000" stroke-width="1.5" stroke-dasharray="1.45 1.55"/>
<line x1="43.40" y1="426.50" x2="43.40" y2="519.50" stroke="#000" stroke-width="1.5" />
<line x1="39.10" y1="427.20" x2="43.40" y2="427.20" stroke="#000" stroke-width="1.4" />
<text x="36.40" y="430.00" font-size="7.8" font-weight="bold" text-anchor="end" fill="#000" >110</text>
<line x1="39.10" y1="450.10" x2="43.40" y2="450.10" stroke="#000" stroke-width="1.4" />
<text x="36.40" y="452.90" font-size="7.8" font-weight="bold" text-anchor="end" fill="#000" >100</text>
<line x1="39.10" y1="473.00" x2="43.40" y2="473.00" stroke="#000" stroke-width="1.4" />
<text x="36.40" y="475.80" font-size="7.8" font-weight="bold" text-anchor="end" fill="#000" >90</text>
<line x1="39.10" y1="495.90" x2="43.40" y2="495.90" stroke="#000" stroke-width="1.4" />
<text x="36.40" y="498.70" font-size="7.8" font-weight="bold" text-anchor="end" fill="#000" >80</text>
<line x1="39.10" y1="518.80" x2="43.40" y2="518.80" stroke="#000" stroke-width="1.4" />
<text x="36.40" y="521.60" font-size="7.8" font-weight="bold" text-anchor="end" fill="#000" >70</text>
<line x1="42.70" y1="518.80" x2="182.42" y2="518.80" stroke="#000" stroke-width="1.5" />
<line x1="43.40" y1="518.80" x2="43.40" y2="523.50" stroke="#000" stroke-width="1.4" />
<text transform="translate(44.60,531.40) rotate(-45)" font-size="8.0" font-weight="bold" text-anchor="end">0</text>
<line x1="53.28" y1="518.80" x2="53.28" y2="523.50" stroke="#000" stroke-width="1.4" />
<text transform="translate(54.48,531.40) rotate(-45)" font-size="8.0" font-weight="bold" text-anchor="end">1</text>
<line x1="63.16" y1="518.80" x2="63.16" y2="523.50" stroke="#000" stroke-width="1.4" />
<text transform="translate(64.36,531.40) rotate(-45)" font-size="8.0" font-weight="bold" text-anchor="end">2</text>
<line x1="73.04" y1="518.80" x2="73.04" y2="523.50" stroke="#000" stroke-width="1.4" />
<text transform="translate(74.24,531.40) rotate(-45)" font-size="8.0" font-weight="bold" text-anchor="end">3</text>
<line x1="82.92" y1="518.80" x2="82.92" y2="523.50" stroke="#000" stroke-width="1.4" />
<text transform="translate(84.12,531.40) rotate(-45)" font-size="8.0" font-weight="bold" text-anchor="end">4</text>
<line x1="92.80" y1="518.80" x2="92.80" y2="523.50" stroke="#000" stroke-width="1.4" />
<text transform="translate(94.00,531.40) rotate(-45)" font-size="8.0" font-weight="bold" text-anchor="end">5</text>
<line x1="102.68" y1="518.80" x2="102.68" y2="523.50" stroke="#000" stroke-width="1.4" />
<text transform="translate(103.88,531.40) rotate(-45)" font-size="8.0" font-weight="bold" text-anchor="end">6</text>
<line x1="112.56" y1="518.80" x2="112.56" y2="523.50" stroke="#000" stroke-width="1.4" />
<text transform="translate(113.76,531.40) rotate(-45)" font-size="8.0" font-weight="bold" text-anchor="end">7</text>
<line x1="122.44" y1="518.80" x2="122.44" y2="523.50" stroke="#000" stroke-width="1.4" />
<text transform="translate(123.64,531.40) rotate(-45)" font-size="8.0" font-weight="bold" text-anchor="end">8</text>
<line x1="132.32" y1="518.80" x2="132.32" y2="523.50" stroke="#000" stroke-width="1.4" />
<text transform="translate(133.52,531.40) rotate(-45)" font-size="8.0" font-weight="bold" text-anchor="end">9</text>
<line x1="142.20" y1="518.80" x2="142.20" y2="523.50" stroke="#000" stroke-width="1.4" />
<text transform="translate(143.40,531.40) rotate(-45)" font-size="8.0" font-weight="bold" text-anchor="end">10</text>
<line x1="152.08" y1="518.80" x2="152.08" y2="523.50" stroke="#000" stroke-width="1.4" />
<text transform="translate(153.28,531.40) rotate(-45)" font-size="8.0" font-weight="bold" text-anchor="end">11</text>
<line x1="161.96" y1="518.80" x2="161.96" y2="523.50" stroke="#000" stroke-width="1.4" />
<text transform="translate(163.16,531.40) rotate(-45)" font-size="8.0" font-weight="bold" text-anchor="end">12</text>
<line x1="171.84" y1="518.80" x2="171.84" y2="523.50" stroke="#000" stroke-width="1.4" />
<text transform="translate(173.04,531.40) rotate(-45)" font-size="8.0" font-weight="bold" text-anchor="end">13</text>
<line x1="181.72" y1="518.80" x2="181.72" y2="523.50" stroke="#000" stroke-width="1.4" />
<text transform="translate(182.92,531.40) rotate(-45)" font-size="8.0" font-weight="bold" text-anchor="end">14</text>
<text x="112.56" y="551.90" font-size="9.1" font-weight="bold" text-anchor="middle" fill="#000" >Days post infection</text>
<g stroke="#111111" stroke-width="1.1"><line x1="53.28" y1="450.10" x2="53.28" y2="456.97"/><line x1="50.88" y1="450.10" x2="55.68" y2="450.10"/><line x1="50.88" y1="456.97" x2="55.68" y2="456.97"/></g>
<g stroke="#111111" stroke-width="1.1"><line x1="63.16" y1="446.21" x2="63.16" y2="467.73"/><line x1="60.76" y1="446.21" x2="65.56" y2="446.21"/><line x1="60.76" y1="467.73" x2="65.56" y2="467.73"/></g>
<g stroke="#111111" stroke-width="1.1"><line x1="73.04" y1="477.35" x2="73.04" y2="490.17"/><line x1="70.64" y1="477.35" x2="75.44" y2="477.35"/><line x1="70.64" y1="490.17" x2="75.44" y2="490.17"/></g>
<g stroke="#111111" stroke-width="1.1"><line x1="82.92" y1="497.73" x2="82.92" y2="505.98"/><line x1="80.52" y1="497.73" x2="85.32" y2="497.73"/><line x1="80.52" y1="505.98" x2="85.32" y2="505.98"/></g>
<g stroke="#111111" stroke-width="1.1"><line x1="92.80" y1="506.43" x2="92.80" y2="511.93"/><line x1="90.40" y1="506.43" x2="95.20" y2="506.43"/><line x1="90.40" y1="511.93" x2="95.20" y2="511.93"/></g>
<g stroke="#111111" stroke-width="1.1"><line x1="102.68" y1="511.70" x2="102.68" y2="515.37"/><line x1="100.28" y1="511.70" x2="105.08" y2="511.70"/><line x1="100.28" y1="515.37" x2="105.08" y2="515.37"/></g>
<polyline points="43.40,450.10 53.28,453.53 63.16,456.97 73.04,483.76 82.92,501.85 92.80,509.18 102.68,513.53" fill="none" stroke="#111111" stroke-width="1.1"/>
<circle cx="43.40" cy="450.10" r="2.45" fill="#111111" stroke="#000000" stroke-width="0.8"/>
<circle cx="53.28" cy="453.53" r="2.45" fill="#111111" stroke="#000000" stroke-width="0.8"/>
<circle cx="63.16" cy="456.97" r="2.45" fill="#111111" stroke="#000000" stroke-width="0.8"/>
<circle cx="73.04" cy="483.76" r="2.45" fill="#111111" stroke="#000000" stroke-width="0.8"/>
<circle cx="82.92" cy="501.85" r="2.45" fill="#111111" stroke="#000000" stroke-width="0.8"/>
<circle cx="92.80" cy="509.18" r="2.45" fill="#111111" stroke="#000000" stroke-width="0.8"/>
<circle cx="102.68" cy="513.53" r="2.45" fill="#111111" stroke="#000000" stroke-width="0.8"/>
<g stroke="#6a22b8" stroke-width="1.1"><line x1="53.28" y1="452.39" x2="53.28" y2="456.97"/><line x1="50.88" y1="452.39" x2="55.68" y2="452.39"/><line x1="50.88" y1="456.97" x2="55.68" y2="456.97"/></g>
<g stroke="#6a22b8" stroke-width="1.1"><line x1="63.16" y1="455.82" x2="63.16" y2="461.32"/><line x1="60.76" y1="455.82" x2="65.56" y2="455.82"/><line x1="60.76" y1="461.32" x2="65.56" y2="461.32"/></g>
<g stroke="#6a22b8" stroke-width="1.1"><line x1="73.04" y1="478.27" x2="73.04" y2="483.76"/><line x1="70.64" y1="478.27" x2="75.44" y2="478.27"/><line x1="70.64" y1="483.76" x2="75.44" y2="483.76"/></g>
<g stroke="#6a22b8" stroke-width="1.1"><line x1="82.92" y1="495.90" x2="82.92" y2="500.48"/><line x1="80.52" y1="495.90" x2="85.32" y2="495.90"/><line x1="80.52" y1="500.48" x2="85.32" y2="500.48"/></g>
<g stroke="#6a22b8" stroke-width="1.1"><line x1="92.80" y1="500.94" x2="92.80" y2="505.52"/><line x1="90.40" y1="500.94" x2="95.20" y2="500.94"/><line x1="90.40" y1="505.52" x2="95.20" y2="505.52"/></g>
<g stroke="#6a22b8" stroke-width="1.1"><line x1="102.68" y1="497.27" x2="102.68" y2="501.85"/><line x1="100.28" y1="497.27" x2="105.08" y2="497.27"/><line x1="100.28" y1="501.85" x2="105.08" y2="501.85"/></g>
<g stroke="#6a22b8" stroke-width="1.1"><line x1="112.56" y1="489.49" x2="112.56" y2="493.61"/><line x1="110.16" y1="489.49" x2="114.96" y2="489.49"/><line x1="110.16" y1="493.61" x2="114.96" y2="493.61"/></g>
<g stroke="#6a22b8" stroke-width="1.1"><line x1="122.44" y1="484.22" x2="122.44" y2="488.34"/><line x1="120.04" y1="484.22" x2="124.84" y2="484.22"/><line x1="120.04" y1="488.34" x2="124.84" y2="488.34"/></g>
<g stroke="#6a22b8" stroke-width="1.1"><line x1="132.32" y1="479.18" x2="132.32" y2="485.59"/><line x1="129.92" y1="479.18" x2="134.72" y2="479.18"/><line x1="129.92" y1="485.59" x2="134.72" y2="485.59"/></g>
<g stroke="#6a22b8" stroke-width="1.1"><line x1="142.20" y1="474.60" x2="142.20" y2="478.72"/><line x1="139.80" y1="474.60" x2="144.60" y2="474.60"/><line x1="139.80" y1="478.72" x2="144.60" y2="478.72"/></g>
<g stroke="#6a22b8" stroke-width="1.1"><line x1="152.08" y1="470.25" x2="152.08" y2="473.92"/><line x1="149.68" y1="470.25" x2="154.48" y2="470.25"/><line x1="149.68" y1="473.92" x2="154.48" y2="473.92"/></g>
<g stroke="#6a22b8" stroke-width="1.1"><line x1="161.96" y1="469.34" x2="161.96" y2="473.00"/><line x1="159.56" y1="469.34" x2="164.36" y2="469.34"/><line x1="159.56" y1="473.00" x2="164.36" y2="473.00"/></g>
<g stroke="#6a22b8" stroke-width="1.1"><line x1="171.84" y1="460.18" x2="171.84" y2="463.84"/><line x1="169.44" y1="460.18" x2="174.24" y2="460.18"/><line x1="169.44" y1="463.84" x2="174.24" y2="463.84"/></g>
<g stroke="#6a22b8" stroke-width="1.1"><line x1="181.72" y1="454.45" x2="181.72" y2="458.11"/><line x1="179.32" y1="454.45" x2="184.12" y2="454.45"/><line x1="179.32" y1="458.11" x2="184.12" y2="458.11"/></g>
<polyline points="43.40,450.10 53.28,454.68 63.16,458.57 73.04,481.01 82.92,498.19 92.80,503.23 102.68,499.56 112.56,491.55 122.44,486.28 132.32,482.39 142.20,476.66 152.08,472.08 161.96,471.17 171.84,462.01 181.72,456.28" fill="none" stroke="#5a1fc4" stroke-width="1.1"/>
<circle cx="43.40" cy="450.10" r="2.45" fill="#c26cff" stroke="#5e14aa" stroke-width="0.8"/>
<circle cx="53.28" cy="454.68" r="2.45" fill="#c26cff" stroke="#5e14aa" stroke-width="0.8"/>
<circle cx="63.16" cy="458.57" r="2.45" fill="#c26cff" stroke="#5e14aa" stroke-width="0.8"/>
<circle cx="73.04" cy="481.01" r="2.45" fill="#c26cff" stroke="#5e14aa" stroke-width="0.8"/>
<circle cx="82.92" cy="498.19" r="2.45" fill="#c26cff" stroke="#5e14aa" stroke-width="0.8"/>
<circle cx="92.80" cy="503.23" r="2.45" fill="#c26cff" stroke="#5e14aa" stroke-width="0.8"/>
<circle cx="102.68" cy="499.56" r="2.45" fill="#c26cff" stroke="#5e14aa" stroke-width="0.8"/>
<circle cx="112.56" cy="491.55" r="2.45" fill="#c26cff" stroke="#5e14aa" stroke-width="0.8"/>
<circle cx="122.44" cy="486.28" r="2.45" fill="#c26cff" stroke="#5e14aa" stroke-width="0.8"/>
<circle cx="132.32" cy="482.39" r="2.45" fill="#c26cff" stroke="#5e14aa" stroke-width="0.8"/>
<circle cx="142.20" cy="476.66" r="2.45" fill="#c26cff" stroke="#5e14aa" stroke-width="0.8"/>
<circle cx="152.08" cy="472.08" r="2.45" fill="#c26cff" stroke="#5e14aa" stroke-width="0.8"/>
<circle cx="161.96" cy="471.17" r="2.45" fill="#c26cff" stroke="#5e14aa" stroke-width="0.8"/>
<circle cx="171.84" cy="462.01" r="2.45" fill="#c26cff" stroke="#5e14aa" stroke-width="0.8"/>
<circle cx="181.72" cy="456.28" r="2.45" fill="#c26cff" stroke="#5e14aa" stroke-width="0.8"/>
<g stroke="#b87a4e" stroke-width="1.1"><line x1="53.28" y1="447.81" x2="53.28" y2="452.39"/><line x1="50.88" y1="447.81" x2="55.68" y2="447.81"/><line x1="50.88" y1="452.39" x2="55.68" y2="452.39"/></g>
<g stroke="#b87a4e" stroke-width="1.1"><line x1="63.16" y1="453.08" x2="63.16" y2="458.57"/><line x1="60.76" y1="453.08" x2="65.56" y2="453.08"/><line x1="60.76" y1="458.57" x2="65.56" y2="458.57"/></g>
<g stroke="#b87a4e" stroke-width="1.1"><line x1="73.04" y1="475.29" x2="73.04" y2="479.87"/><line x1="70.64" y1="475.29" x2="75.44" y2="475.29"/><line x1="70.64" y1="479.87" x2="75.44" y2="479.87"/></g>
<g stroke="#b87a4e" stroke-width="1.1"><line x1="82.92" y1="497.04" x2="82.92" y2="501.62"/><line x1="80.52" y1="497.04" x2="85.32" y2="497.04"/><line x1="80.52" y1="501.62" x2="85.32" y2="501.62"/></g>
<g stroke="#b87a4e" stroke-width="1.1"><line x1="92.80" y1="505.29" x2="92.80" y2="509.87"/><line x1="90.40" y1="505.29" x2="95.20" y2="505.29"/><line x1="90.40" y1="509.87" x2="95.20" y2="509.87"/></g>
<g stroke="#b87a4e" stroke-width="1.1"><line x1="102.68" y1="506.66" x2="102.68" y2="511.24"/><line x1="100.28" y1="506.66" x2="105.08" y2="506.66"/><line x1="100.28" y1="511.24" x2="105.08" y2="511.24"/></g>
<g stroke="#b87a4e" stroke-width="1.1"><line x1="112.56" y1="502.31" x2="112.56" y2="504.14"/><line x1="110.16" y1="502.31" x2="114.96" y2="502.31"/><line x1="110.16" y1="504.14" x2="114.96" y2="504.14"/></g>
<g stroke="#b87a4e" stroke-width="1.1"><line x1="122.44" y1="495.67" x2="122.44" y2="497.50"/><line x1="120.04" y1="495.67" x2="124.84" y2="495.67"/><line x1="120.04" y1="497.50" x2="124.84" y2="497.50"/></g>
<g stroke="#b87a4e" stroke-width="1.1"><line x1="132.32" y1="492.92" x2="132.32" y2="494.75"/><line x1="129.92" y1="492.92" x2="134.72" y2="492.92"/><line x1="129.92" y1="494.75" x2="134.72" y2="494.75"/></g>
<g stroke="#b87a4e" stroke-width="1.1"><line x1="142.20" y1="490.63" x2="142.20" y2="492.46"/><line x1="139.80" y1="490.63" x2="144.60" y2="490.63"/><line x1="139.80" y1="492.46" x2="144.60" y2="492.46"/></g>
<g stroke="#b87a4e" stroke-width="1.1"><line x1="152.08" y1="490.63" x2="152.08" y2="492.46"/><line x1="149.68" y1="490.63" x2="154.48" y2="490.63"/><line x1="149.68" y1="492.46" x2="154.48" y2="492.46"/></g>
<g stroke="#b87a4e" stroke-width="1.1"><line x1="161.96" y1="481.47" x2="161.96" y2="483.30"/><line x1="159.56" y1="481.47" x2="164.36" y2="481.47"/><line x1="159.56" y1="483.30" x2="164.36" y2="483.30"/></g>
<g stroke="#b87a4e" stroke-width="1.1"><line x1="171.84" y1="472.31" x2="171.84" y2="474.14"/><line x1="169.44" y1="472.31" x2="174.24" y2="472.31"/><line x1="169.44" y1="474.14" x2="174.24" y2="474.14"/></g>
<g stroke="#b87a4e" stroke-width="1.1"><line x1="181.72" y1="465.21" x2="181.72" y2="467.05"/><line x1="179.32" y1="465.21" x2="184.12" y2="465.21"/><line x1="179.32" y1="467.05" x2="184.12" y2="467.05"/></g>
<polyline points="43.40,450.10 53.28,450.10 63.16,455.82 73.04,477.58 82.92,499.33 92.80,507.58 102.68,508.95 112.56,503.23 122.44,496.59 132.32,493.84 142.20,491.55 152.08,491.55 161.96,482.39 171.84,473.23 181.72,466.13" fill="none" stroke="#b0602e" stroke-width="1.1"/>
<circle cx="43.40" cy="450.10" r="2.45" fill="#f07c22" stroke="#a9561c" stroke-width="0.8"/>
<circle cx="53.28" cy="450.10" r="2.45" fill="#f07c22" stroke="#a9561c" stroke-width="0.8"/>
<circle cx="63.16" cy="455.82" r="2.45" fill="#f07c22" stroke="#a9561c" stroke-width="0.8"/>
<circle cx="73.04" cy="477.58" r="2.45" fill="#f07c22" stroke="#a9561c" stroke-width="0.8"/>
<circle cx="82.92" cy="499.33" r="2.45" fill="#f07c22" stroke="#a9561c" stroke-width="0.8"/>
<circle cx="92.80" cy="507.58" r="2.45" fill="#f07c22" stroke="#a9561c" stroke-width="0.8"/>
<circle cx="102.68" cy="508.95" r="2.45" fill="#f07c22" stroke="#a9561c" stroke-width="0.8"/>
<circle cx="112.56" cy="503.23" r="2.45" fill="#f07c22" stroke="#a9561c" stroke-width="0.8"/>
<circle cx="122.44" cy="496.59" r="2.45" fill="#f07c22" stroke="#a9561c" stroke-width="0.8"/>
<circle cx="132.32" cy="493.84" r="2.45" fill="#f07c22" stroke="#a9561c" stroke-width="0.8"/>
<circle cx="142.20" cy="491.55" r="2.45" fill="#f07c22" stroke="#a9561c" stroke-width="0.8"/>
<circle cx="152.08" cy="491.55" r="2.45" fill="#f07c22" stroke="#a9561c" stroke-width="0.8"/>
<circle cx="161.96" cy="482.39" r="2.45" fill="#f07c22" stroke="#a9561c" stroke-width="0.8"/>
<circle cx="171.84" cy="473.23" r="2.45" fill="#f07c22" stroke="#a9561c" stroke-width="0.8"/>
<circle cx="181.72" cy="466.13" r="2.45" fill="#f07c22" stroke="#a9561c" stroke-width="0.8"/>
<g stroke="#62a448" stroke-width="1.1"><line x1="53.28" y1="451.02" x2="53.28" y2="460.18"/><line x1="50.88" y1="451.02" x2="55.68" y2="451.02"/><line x1="50.88" y1="460.18" x2="55.68" y2="460.18"/></g>
<g stroke="#62a448" stroke-width="1.1"><line x1="63.16" y1="450.56" x2="63.16" y2="457.43"/><line x1="60.76" y1="450.56" x2="65.56" y2="450.56"/><line x1="60.76" y1="457.43" x2="65.56" y2="457.43"/></g>
<g stroke="#62a448" stroke-width="1.1"><line x1="73.04" y1="470.48" x2="73.04" y2="480.56"/><line x1="70.64" y1="470.48" x2="75.44" y2="470.48"/><line x1="70.64" y1="480.56" x2="75.44" y2="480.56"/></g>
<g stroke="#62a448" stroke-width="1.1"><line x1="82.92" y1="487.43" x2="82.92" y2="500.71"/><line x1="80.52" y1="487.43" x2="85.32" y2="487.43"/><line x1="80.52" y1="500.71" x2="85.32" y2="500.71"/></g>
<g stroke="#62a448" stroke-width="1.1"><line x1="92.80" y1="485.59" x2="92.80" y2="507.12"/><line x1="90.40" y1="485.59" x2="95.20" y2="485.59"/><line x1="90.40" y1="507.12" x2="95.20" y2="507.12"/></g>
<g stroke="#62a448" stroke-width="1.1"><line x1="102.68" y1="478.95" x2="102.68" y2="501.85"/><line x1="100.28" y1="478.95" x2="105.08" y2="478.95"/><line x1="100.28" y1="501.85" x2="105.08" y2="501.85"/></g>
<g stroke="#62a448" stroke-width="1.1"><line x1="112.56" y1="472.54" x2="112.56" y2="494.53"/><line x1="110.16" y1="472.54" x2="114.96" y2="472.54"/><line x1="110.16" y1="494.53" x2="114.96" y2="494.53"/></g>
<g stroke="#62a448" stroke-width="1.1"><line x1="122.44" y1="467.27" x2="122.44" y2="491.55"/><line x1="120.04" y1="467.27" x2="124.84" y2="467.27"/><line x1="120.04" y1="491.55" x2="124.84" y2="491.55"/></g>
<g stroke="#62a448" stroke-width="1.1"><line x1="132.32" y1="462.92" x2="132.32" y2="487.66"/><line x1="129.92" y1="462.92" x2="134.72" y2="462.92"/><line x1="129.92" y1="487.66" x2="134.72" y2="487.66"/></g>
<g stroke="#62a448" stroke-width="1.1"><line x1="142.20" y1="459.26" x2="142.20" y2="479.41"/><line x1="139.80" y1="459.26" x2="144.60" y2="459.26"/><line x1="139.80" y1="479.41" x2="144.60" y2="479.41"/></g>
<g stroke="#62a448" stroke-width="1.1"><line x1="152.08" y1="453.08" x2="152.08" y2="472.31"/><line x1="149.68" y1="453.08" x2="154.48" y2="453.08"/><line x1="149.68" y1="472.31" x2="154.48" y2="472.31"/></g>
<g stroke="#62a448" stroke-width="1.1"><line x1="161.96" y1="452.16" x2="161.96" y2="468.65"/><line x1="159.56" y1="452.16" x2="164.36" y2="452.16"/><line x1="159.56" y1="468.65" x2="164.36" y2="468.65"/></g>
<g stroke="#62a448" stroke-width="1.1"><line x1="171.84" y1="452.39" x2="171.84" y2="464.30"/><line x1="169.44" y1="452.39" x2="174.24" y2="452.39"/><line x1="169.44" y1="464.30" x2="174.24" y2="464.30"/></g>
<g stroke="#62a448" stroke-width="1.1"><line x1="181.72" y1="451.47" x2="181.72" y2="461.55"/><line x1="179.32" y1="451.47" x2="184.12" y2="451.47"/><line x1="179.32" y1="461.55" x2="184.12" y2="461.55"/></g>
<polyline points="43.40,450.10 53.28,455.60 63.16,453.99 73.04,475.52 82.92,494.07 92.80,496.36 102.68,490.40 112.56,483.53 122.44,479.41 132.32,475.29 142.20,469.34 152.08,462.69 161.96,460.40 171.84,458.34 181.72,456.51" fill="none" stroke="#58a43c" stroke-width="1.1"/>
<circle cx="43.40" cy="450.10" r="2.45" fill="#5ea86a" stroke="#3f8d36" stroke-width="0.8"/>
<circle cx="53.28" cy="455.60" r="2.45" fill="#5ea86a" stroke="#3f8d36" stroke-width="0.8"/>
<circle cx="63.16" cy="453.99" r="2.45" fill="#5ea86a" stroke="#3f8d36" stroke-width="0.8"/>
<circle cx="73.04" cy="475.52" r="2.45" fill="#5ea86a" stroke="#3f8d36" stroke-width="0.8"/>
<circle cx="82.92" cy="494.07" r="2.45" fill="#5ea86a" stroke="#3f8d36" stroke-width="0.8"/>
<circle cx="92.80" cy="496.36" r="2.45" fill="#5ea86a" stroke="#3f8d36" stroke-width="0.8"/>
<circle cx="102.68" cy="490.40" r="2.45" fill="#5ea86a" stroke="#3f8d36" stroke-width="0.8"/>
<circle cx="112.56" cy="483.53" r="2.45" fill="#5ea86a" stroke="#3f8d36" stroke-width="0.8"/>
<circle cx="122.44" cy="479.41" r="2.45" fill="#5ea86a" stroke="#3f8d36" stroke-width="0.8"/>
<circle cx="132.32" cy="475.29" r="2.45" fill="#5ea86a" stroke="#3f8d36" stroke-width="0.8"/>
<circle cx="142.20" cy="469.34" r="2.45" fill="#5ea86a" stroke="#3f8d36" stroke-width="0.8"/>
<circle cx="152.08" cy="462.69" r="2.45" fill="#5ea86a" stroke="#3f8d36" stroke-width="0.8"/>
<circle cx="161.96" cy="460.40" r="2.45" fill="#5ea86a" stroke="#3f8d36" stroke-width="0.8"/>
<circle cx="171.84" cy="458.34" r="2.45" fill="#5ea86a" stroke="#3f8d36" stroke-width="0.8"/>
<circle cx="181.72" cy="456.51" r="2.45" fill="#5ea86a" stroke="#3f8d36" stroke-width="0.8"/>
<text transform="translate(8.8,352.5) rotate(-90)" font-size="9" font-weight="bold" text-anchor="middle">Weight loss</text>
<text transform="translate(18.4,352.5) rotate(-90)" font-size="9" font-weight="bold" text-anchor="middle">(% of starting weight)</text>
<text x="464.25" y="173.70" font-size="9.6" font-weight="bold" text-anchor="middle" fill="#000" >1A1</text>
<line x1="415.00" y1="182.50" x2="415.00" y2="188.50" stroke="#4a8f2a" stroke-width="1.4" stroke-dasharray="1.6 1.4"/>
<path d="M415.00,188.40 L417.90,189.50 L415.00,192.40 L412.10,189.50 Z" fill="#4a8f2a"/>
<line x1="425.45" y1="182.50" x2="425.45" y2="188.50" stroke="#7d1a95" stroke-width="1.4" stroke-dasharray="1.6 1.4"/>
<path d="M425.45,188.40 L428.35,189.50 L425.45,192.40 L422.55,189.50 Z" fill="#7d1a95"/>
<line x1="434.50" y1="182.50" x2="434.50" y2="188.50" stroke="#f08a2a" stroke-width="1.4" stroke-dasharray="1.6 1.4"/>
<path d="M434.50,188.40 L437.40,189.50 L434.50,192.40 L431.60,189.50 Z" fill="#f08a2a"/>
<polyline points="434.70,197.76 434.70,212.97 444.55,212.97 444.55,273.80" fill="none" stroke="#3a3a3a" stroke-width="1.05"/>
<polyline points="444.55,197.76 444.55,273.80" fill="none" stroke="#9b30ff" stroke-width="1.05"/>
<polyline points="444.55,212.97 454.40,212.97 454.40,273.80" fill="none" stroke="#f5a060" stroke-width="1.05"/>
<polyline points="395.30,197.76 444.55,197.76 444.55,243.38 533.20,243.38" fill="none" stroke="#6fa653" stroke-width="1.05"/>
<line x1="395.30" y1="181.85" x2="395.30" y2="274.50" stroke="#000" stroke-width="1.5" />
<line x1="391.00" y1="182.55" x2="395.30" y2="182.55" stroke="#000" stroke-width="1.4" />
<text x="388.30" y="185.35" font-size="7.8" font-weight="bold" text-anchor="end" fill="#000" >120</text>
<line x1="391.00" y1="197.76" x2="395.30" y2="197.76" stroke="#000" stroke-width="1.4" />
<text x="388.30" y="200.56" font-size="7.8" font-weight="bold" text-anchor="end" fill="#000" >100</text>
<line x1="391.00" y1="212.97" x2="395.30" y2="212.97" stroke="#000" stroke-width="1.4" />
<text x="388.30" y="215.77" font-size="7.8" font-weight="bold" text-anchor="end" fill="#000" >80</text>
<line x1="391.00" y1="228.18" x2="395.30" y2="228.18" stroke="#000" stroke-width="1.4" />
<text x="388.30" y="230.98" font-size="7.8" font-weight="bold" text-anchor="end" fill="#000" >60</text>
<line x1="391.00" y1="243.38" x2="395.30" y2="243.38" stroke="#000" stroke-width="1.4" />
<text x="388.30" y="246.18" font-size="7.8" font-weight="bold" text-anchor="end" fill="#000" >40</text>
<line x1="391.00" y1="258.59" x2="395.30" y2="258.59" stroke="#000" stroke-width="1.4" />
<text x="388.30" y="261.39" font-size="7.8" font-weight="bold" text-anchor="end" fill="#000" >20</text>
<line x1="391.00" y1="273.80" x2="395.30" y2="273.80" stroke="#000" stroke-width="1.4" />
<text x="388.30" y="276.60" font-size="7.8" font-weight="bold" text-anchor="end" fill="#000" >0</text>
<line x1="394.60" y1="273.80" x2="533.90" y2="273.80" stroke="#000" stroke-width="1.5" />
<line x1="395.30" y1="273.80" x2="395.30" y2="278.50" stroke="#000" stroke-width="1.4" />
<line x1="405.15" y1="273.80" x2="405.15" y2="278.50" stroke="#000" stroke-width="1.4" />
<line x1="415.00" y1="273.80" x2="415.00" y2="278.50" stroke="#000" stroke-width="1.4" />
<line x1="424.85" y1="273.80" x2="424.85" y2="278.50" stroke="#000" stroke-width="1.4" />
<line x1="434.70" y1="273.80" x2="434.70" y2="278.50" stroke="#000" stroke-width="1.4" />
<line x1="444.55" y1="273.80" x2="444.55" y2="278.50" stroke="#000" stroke-width="1.4" />
<line x1="454.40" y1="273.80" x2="454.40" y2="278.50" stroke="#000" stroke-width="1.4" />
<line x1="464.25" y1="273.80" x2="464.25" y2="278.50" stroke="#000" stroke-width="1.4" />
<line x1="474.10" y1="273.80" x2="474.10" y2="278.50" stroke="#000" stroke-width="1.4" />
<line x1="483.95" y1="273.80" x2="483.95" y2="278.50" stroke="#000" stroke-width="1.4" />
<line x1="493.80" y1="273.80" x2="493.80" y2="278.50" stroke="#000" stroke-width="1.4" />
<line x1="503.65" y1="273.80" x2="503.65" y2="278.50" stroke="#000" stroke-width="1.4" />
<line x1="513.50" y1="273.80" x2="513.50" y2="278.50" stroke="#000" stroke-width="1.4" />
<line x1="523.35" y1="273.80" x2="523.35" y2="278.50" stroke="#000" stroke-width="1.4" />
<line x1="533.20" y1="273.80" x2="533.20" y2="278.50" stroke="#000" stroke-width="1.4" />
<text x="613.85" y="172.80" font-size="9.6" font-weight="bold" text-anchor="middle" fill="#000" >7H10</text>
<line x1="565.80" y1="182.50" x2="565.80" y2="188.50" stroke="#4a8f2a" stroke-width="1.4" stroke-dasharray="1.6 1.4"/>
<path d="M565.80,188.40 L568.70,189.50 L565.80,192.40 L562.90,189.50 Z" fill="#4a8f2a"/>
<line x1="576.25" y1="182.50" x2="576.25" y2="188.50" stroke="#7d1a95" stroke-width="1.4" stroke-dasharray="1.6 1.4"/>
<path d="M576.25,188.40 L579.15,189.50 L576.25,192.40 L573.35,189.50 Z" fill="#7d1a95"/>
<line x1="585.30" y1="182.50" x2="585.30" y2="188.50" stroke="#f08a2a" stroke-width="1.4" stroke-dasharray="1.6 1.4"/>
<path d="M585.30,188.40 L588.20,189.50 L585.30,192.40 L582.40,189.50 Z" fill="#f08a2a"/>
<polyline points="584.30,197.96 584.30,213.17 594.15,213.17 594.15,274.00" fill="none" stroke="#3a3a3a" stroke-width="1.05"/>
<polyline points="594.15,197.96 594.15,274.00" fill="none" stroke="#f5a060" stroke-width="1.05"/>
<polyline points="594.15,243.58 604.00,243.58 604.00,258.79" fill="none" stroke="#9b30ff" stroke-width="1.05"/>
<polyline points="544.90,197.96 594.15,197.96 594.15,258.79 604.00,258.79 604.00,274.00" fill="none" stroke="#6fa653" stroke-width="1.05"/>
<line x1="544.90" y1="182.05" x2="544.90" y2="274.70" stroke="#000" stroke-width="1.5" />
<line x1="540.60" y1="182.75" x2="544.90" y2="182.75" stroke="#000" stroke-width="1.4" />
<line x1="540.60" y1="197.96" x2="544.90" y2="197.96" stroke="#000" stroke-width="1.4" />
<line x1="540.60" y1="213.17" x2="544.90" y2="213.17" stroke="#000" stroke-width="1.4" />
<line x1="540.60" y1="228.38" x2="544.90" y2="228.38" stroke="#000" stroke-width="1.4" />
<line x1="540.60" y1="243.58" x2="544.90" y2="243.58" stroke="#000" stroke-width="1.4" />
<line x1="540.60" y1="258.79" x2="544.90" y2="258.79" stroke="#000" stroke-width="1.4" />
<line x1="540.60" y1="274.00" x2="544.90" y2="274.00" stroke="#000" stroke-width="1.4" />
<line x1="544.20" y1="274.00" x2="683.50" y2="274.00" stroke="#000" stroke-width="1.5" />
<line x1="544.90" y1="274.00" x2="544.90" y2="278.70" stroke="#000" stroke-width="1.4" />
<line x1="554.75" y1="274.00" x2="554.75" y2="278.70" stroke="#000" stroke-width="1.4" />
<line x1="564.60" y1="274.00" x2="564.60" y2="278.70" stroke="#000" stroke-width="1.4" />
<line x1="574.45" y1="274.00" x2="574.45" y2="278.70" stroke="#000" stroke-width="1.4" />
<line x1="584.30" y1="274.00" x2="584.30" y2="278.70" stroke="#000" stroke-width="1.4" />
<line x1="594.15" y1="274.00" x2="594.15" y2="278.70" stroke="#000" stroke-width="1.4" />
<line x1="604.00" y1="274.00" x2="604.00" y2="278.70" stroke="#000" stroke-width="1.4" />
<line x1="613.85" y1="274.00" x2="613.85" y2="278.70" stroke="#000" stroke-width="1.4" />
<line x1="623.70" y1="274.00" x2="623.70" y2="278.70" stroke="#000" stroke-width="1.4" />
<line x1="633.55" y1="274.00" x2="633.55" y2="278.70" stroke="#000" stroke-width="1.4" />
<line x1="643.40" y1="274.00" x2="643.40" y2="278.70" stroke="#000" stroke-width="1.4" />
<line x1="653.25" y1="274.00" x2="653.25" y2="278.70" stroke="#000" stroke-width="1.4" />
<line x1="663.10" y1="274.00" x2="663.10" y2="278.70" stroke="#000" stroke-width="1.4" />
<line x1="672.95" y1="274.00" x2="672.95" y2="278.70" stroke="#000" stroke-width="1.4" />
<line x1="682.80" y1="274.00" x2="682.80" y2="278.70" stroke="#000" stroke-width="1.4" />
<text x="465.15" y="295.80" font-size="9.6" font-weight="bold" text-anchor="middle" fill="#000" >20D10</text>
<line x1="415.05" y1="306.20" x2="415.05" y2="312.20" stroke="#4a8f2a" stroke-width="1.4" stroke-dasharray="1.6 1.4"/>
<path d="M415.05,312.10 L417.95,313.20 L415.05,316.10 L412.15,313.20 Z" fill="#4a8f2a"/>
<line x1="425.50" y1="306.20" x2="425.50" y2="312.20" stroke="#7d1a95" stroke-width="1.4" stroke-dasharray="1.6 1.4"/>
<path d="M425.50,312.10 L428.40,313.20 L425.50,316.10 L422.60,313.20 Z" fill="#7d1a95"/>
<line x1="434.55" y1="306.20" x2="434.55" y2="312.20" stroke="#f08a2a" stroke-width="1.4" stroke-dasharray="1.6 1.4"/>
<path d="M434.55,312.10 L437.45,313.20 L434.55,316.10 L431.65,313.20 Z" fill="#f08a2a"/>
<polyline points="455.30,366.18 465.15,366.18 465.15,381.39 534.10,381.39" fill="none" stroke="#f5a060" stroke-width="1.05"/>
<polyline points="435.60,320.56 435.60,335.77 445.45,335.77 445.45,396.60" fill="none" stroke="#3a3a3a" stroke-width="1.05"/>
<polyline points="445.45,366.18 455.30,366.18 455.30,396.60" fill="none" stroke="#3a3a3a" stroke-width="1.05"/>
<polyline points="445.45,320.56 445.45,335.77 455.30,335.77 455.30,366.18 534.10,366.18" fill="none" stroke="#9b30ff" stroke-width="1.05"/>
<polyline points="396.20,320.56 465.15,320.56 465.15,335.77 534.10,335.77" fill="none" stroke="#6fa653" stroke-width="1.05"/>
<line x1="396.20" y1="304.65" x2="396.20" y2="397.30" stroke="#000" stroke-width="1.5" />
<line x1="391.90" y1="305.35" x2="396.20" y2="305.35" stroke="#000" stroke-width="1.4" />
<text x="389.20" y="308.15" font-size="7.8" font-weight="bold" text-anchor="end" fill="#000" >120</text>
<line x1="391.90" y1="320.56" x2="396.20" y2="320.56" stroke="#000" stroke-width="1.4" />
<text x="389.20" y="323.36" font-size="7.8" font-weight="bold" text-anchor="end" fill="#000" >100</text>
<line x1="391.90" y1="335.77" x2="396.20" y2="335.77" stroke="#000" stroke-width="1.4" />
<text x="389.20" y="338.57" font-size="7.8" font-weight="bold" text-anchor="end" fill="#000" >80</text>
<line x1="391.90" y1="350.98" x2="396.20" y2="350.98" stroke="#000" stroke-width="1.4" />
<text x="389.20" y="353.78" font-size="7.8" font-weight="bold" text-anchor="end" fill="#000" >60</text>
<line x1="391.90" y1="366.18" x2="396.20" y2="366.18" stroke="#000" stroke-width="1.4" />
<text x="389.20" y="368.98" font-size="7.8" font-weight="bold" text-anchor="end" fill="#000" >40</text>
<line x1="391.90" y1="381.39" x2="396.20" y2="381.39" stroke="#000" stroke-width="1.4" />
<text x="389.20" y="384.19" font-size="7.8" font-weight="bold" text-anchor="end" fill="#000" >20</text>
<line x1="391.90" y1="396.60" x2="396.20" y2="396.60" stroke="#000" stroke-width="1.4" />
<text x="389.20" y="399.40" font-size="7.8" font-weight="bold" text-anchor="end" fill="#000" >0</text>
<line x1="395.50" y1="396.60" x2="534.80" y2="396.60" stroke="#000" stroke-width="1.5" />
<line x1="396.20" y1="396.60" x2="396.20" y2="401.30" stroke="#000" stroke-width="1.4" />
<line x1="406.05" y1="396.60" x2="406.05" y2="401.30" stroke="#000" stroke-width="1.4" />
<line x1="415.90" y1="396.60" x2="415.90" y2="401.30" stroke="#000" stroke-width="1.4" />
<line x1="425.75" y1="396.60" x2="425.75" y2="401.30" stroke="#000" stroke-width="1.4" />
<line x1="435.60" y1="396.60" x2="435.60" y2="401.30" stroke="#000" stroke-width="1.4" />
<line x1="445.45" y1="396.60" x2="445.45" y2="401.30" stroke="#000" stroke-width="1.4" />
<line x1="455.30" y1="396.60" x2="455.30" y2="401.30" stroke="#000" stroke-width="1.4" />
<line x1="465.15" y1="396.60" x2="465.15" y2="401.30" stroke="#000" stroke-width="1.4" />
<line x1="475.00" y1="396.60" x2="475.00" y2="401.30" stroke="#000" stroke-width="1.4" />
<line x1="484.85" y1="396.60" x2="484.85" y2="401.30" stroke="#000" stroke-width="1.4" />
<line x1="494.70" y1="396.60" x2="494.70" y2="401.30" stroke="#000" stroke-width="1.4" />
<line x1="504.55" y1="396.60" x2="504.55" y2="401.30" stroke="#000" stroke-width="1.4" />
<line x1="514.40" y1="396.60" x2="514.40" y2="401.30" stroke="#000" stroke-width="1.4" />
<line x1="524.25" y1="396.60" x2="524.25" y2="401.30" stroke="#000" stroke-width="1.4" />
<line x1="534.10" y1="396.60" x2="534.10" y2="401.30" stroke="#000" stroke-width="1.4" />
<text x="614.05" y="295.80" font-size="9.6" font-weight="bold" text-anchor="middle" fill="#000" >12G1</text>
<line x1="565.80" y1="306.20" x2="565.80" y2="312.20" stroke="#4a8f2a" stroke-width="1.4" stroke-dasharray="1.6 1.4"/>
<path d="M565.80,312.10 L568.70,313.20 L565.80,316.10 L562.90,313.20 Z" fill="#4a8f2a"/>
<line x1="576.25" y1="306.20" x2="576.25" y2="312.20" stroke="#7d1a95" stroke-width="1.4" stroke-dasharray="1.6 1.4"/>
<path d="M576.25,312.10 L579.15,313.20 L576.25,316.10 L573.35,313.20 Z" fill="#7d1a95"/>
<line x1="585.30" y1="306.20" x2="585.30" y2="312.20" stroke="#f08a2a" stroke-width="1.4" stroke-dasharray="1.6 1.4"/>
<path d="M585.30,312.10 L588.20,313.20 L585.30,316.10 L582.40,313.20 Z" fill="#f08a2a"/>
<polyline points="584.50,320.76 584.50,335.97 594.35,335.97 594.35,396.80" fill="none" stroke="#3a3a3a" stroke-width="1.05"/>
<polyline points="594.35,366.38 604.20,366.38 604.20,396.80" fill="none" stroke="#3a3a3a" stroke-width="1.05"/>
<polyline points="594.35,335.97 604.20,335.97 604.20,366.38 683.00,366.38" fill="none" stroke="#f5a060" stroke-width="1.05"/>
<polyline points="594.35,320.76 594.35,351.18 683.00,351.18" fill="none" stroke="#9b30ff" stroke-width="1.05"/>
<polyline points="545.10,320.76 604.20,320.76 604.20,335.97 683.00,335.97" fill="none" stroke="#6fa653" stroke-width="1.05"/>
<line x1="545.10" y1="304.85" x2="545.10" y2="397.50" stroke="#000" stroke-width="1.5" />
<line x1="540.80" y1="305.55" x2="545.10" y2="305.55" stroke="#000" stroke-width="1.4" />
<line x1="540.80" y1="320.76" x2="545.10" y2="320.76" stroke="#000" stroke-width="1.4" />
<line x1="540.80" y1="335.97" x2="545.10" y2="335.97" stroke="#000" stroke-width="1.4" />
<line x1="540.80" y1="351.18" x2="545.10" y2="351.18" stroke="#000" stroke-width="1.4" />
<line x1="540.80" y1="366.38" x2="545.10" y2="366.38" stroke="#000" stroke-width="1.4" />
<line x1="540.80" y1="381.59" x2="545.10" y2="381.59" stroke="#000" stroke-width="1.4" />
<line x1="540.80" y1="396.80" x2="545.10" y2="396.80" stroke="#000" stroke-width="1.4" />
<line x1="544.40" y1="396.80" x2="683.70" y2="396.80" stroke="#000" stroke-width="1.5" />
<line x1="545.10" y1="396.80" x2="545.10" y2="401.50" stroke="#000" stroke-width="1.4" />
<text transform="translate(546.30,409.40) rotate(-45)" font-size="8.0" font-weight="bold" text-anchor="end">0</text>
<line x1="554.95" y1="396.80" x2="554.95" y2="401.50" stroke="#000" stroke-width="1.4" />
<text transform="translate(556.15,409.40) rotate(-45)" font-size="8.0" font-weight="bold" text-anchor="end">1</text>
<line x1="564.80" y1="396.80" x2="564.80" y2="401.50" stroke="#000" stroke-width="1.4" />
<text transform="translate(566.00,409.40) rotate(-45)" font-size="8.0" font-weight="bold" text-anchor="end">2</text>
<line x1="574.65" y1="396.80" x2="574.65" y2="401.50" stroke="#000" stroke-width="1.4" />
<text transform="translate(575.85,409.40) rotate(-45)" font-size="8.0" font-weight="bold" text-anchor="end">3</text>
<line x1="584.50" y1="396.80" x2="584.50" y2="401.50" stroke="#000" stroke-width="1.4" />
<text transform="translate(585.70,409.40) rotate(-45)" font-size="8.0" font-weight="bold" text-anchor="end">4</text>
<line x1="594.35" y1="396.80" x2="594.35" y2="401.50" stroke="#000" stroke-width="1.4" />
<text transform="translate(595.55,409.40) rotate(-45)" font-size="8.0" font-weight="bold" text-anchor="end">5</text>
<line x1="604.20" y1="396.80" x2="604.20" y2="401.50" stroke="#000" stroke-width="1.4" />
<text transform="translate(605.40,409.40) rotate(-45)" font-size="8.0" font-weight="bold" text-anchor="end">6</text>
<line x1="614.05" y1="396.80" x2="614.05" y2="401.50" stroke="#000" stroke-width="1.4" />
<text transform="translate(615.25,409.40) rotate(-45)" font-size="8.0" font-weight="bold" text-anchor="end">7</text>
<line x1="623.90" y1="396.80" x2="623.90" y2="401.50" stroke="#000" stroke-width="1.4" />
<text transform="translate(625.10,409.40) rotate(-45)" font-size="8.0" font-weight="bold" text-anchor="end">8</text>
<line x1="633.75" y1="396.80" x2="633.75" y2="401.50" stroke="#000" stroke-width="1.4" />
<text transform="translate(634.95,409.40) rotate(-45)" font-size="8.0" font-weight="bold" text-anchor="end">9</text>
<line x1="643.60" y1="396.80" x2="643.60" y2="401.50" stroke="#000" stroke-width="1.4" />
<text transform="translate(644.80,409.40) rotate(-45)" font-size="8.0" font-weight="bold" text-anchor="end">10</text>
<line x1="653.45" y1="396.80" x2="653.45" y2="401.50" stroke="#000" stroke-width="1.4" />
<text transform="translate(654.65,409.40) rotate(-45)" font-size="8.0" font-weight="bold" text-anchor="end">11</text>
<line x1="663.30" y1="396.80" x2="663.30" y2="401.50" stroke="#000" stroke-width="1.4" />
<text transform="translate(664.50,409.40) rotate(-45)" font-size="8.0" font-weight="bold" text-anchor="end">12</text>
<line x1="673.15" y1="396.80" x2="673.15" y2="401.50" stroke="#000" stroke-width="1.4" />
<text transform="translate(674.35,409.40) rotate(-45)" font-size="8.0" font-weight="bold" text-anchor="end">13</text>
<line x1="683.00" y1="396.80" x2="683.00" y2="401.50" stroke="#000" stroke-width="1.4" />
<text transform="translate(684.20,409.40) rotate(-45)" font-size="8.0" font-weight="bold" text-anchor="end">14</text>
<text x="614.05" y="429.90" font-size="9.1" font-weight="bold" text-anchor="middle" fill="#000" >Days post infection</text>
<text x="464.15" y="419.30" font-size="9.6" font-weight="bold" text-anchor="middle" fill="#000" >6G1</text>
<line x1="415.20" y1="427.60" x2="415.20" y2="433.60" stroke="#4a8f2a" stroke-width="1.4" stroke-dasharray="1.6 1.4"/>
<path d="M415.20,433.50 L418.10,434.60 L415.20,437.50 L412.30,434.60 Z" fill="#4a8f2a"/>
<line x1="425.65" y1="427.60" x2="425.65" y2="433.60" stroke="#7d1a95" stroke-width="1.4" stroke-dasharray="1.6 1.4"/>
<path d="M425.65,433.50 L428.55,434.60 L425.65,437.50 L422.75,434.60 Z" fill="#7d1a95"/>
<line x1="434.70" y1="427.60" x2="434.70" y2="433.60" stroke="#f08a2a" stroke-width="1.4" stroke-dasharray="1.6 1.4"/>
<path d="M434.70,433.50 L437.60,434.60 L434.70,437.50 L431.80,434.60 Z" fill="#f08a2a"/>
<polyline points="434.60,442.56 434.60,457.77 444.45,457.77 444.45,518.60" fill="none" stroke="#3a3a3a" stroke-width="1.05"/>
<polyline points="444.45,488.18 454.30,488.18 454.30,518.60" fill="none" stroke="#3a3a3a" stroke-width="1.05"/>
<polyline points="454.30,488.18 454.30,503.39 533.10,503.39" fill="none" stroke="#f5a060" stroke-width="1.05"/>
<polyline points="444.45,442.56 444.45,472.98 454.30,472.98 454.30,488.18 533.10,488.18" fill="none" stroke="#9b30ff" stroke-width="1.05"/>
<polyline points="395.20,442.56 533.10,442.56" fill="none" stroke="#6fa653" stroke-width="1.05"/>
<line x1="395.20" y1="426.65" x2="395.20" y2="519.30" stroke="#000" stroke-width="1.5" />
<line x1="390.90" y1="427.35" x2="395.20" y2="427.35" stroke="#000" stroke-width="1.4" />
<text x="388.20" y="430.15" font-size="7.8" font-weight="bold" text-anchor="end" fill="#000" >120</text>
<line x1="390.90" y1="442.56" x2="395.20" y2="442.56" stroke="#000" stroke-width="1.4" />
<text x="388.20" y="445.36" font-size="7.8" font-weight="bold" text-anchor="end" fill="#000" >100</text>
<line x1="390.90" y1="457.77" x2="395.20" y2="457.77" stroke="#000" stroke-width="1.4" />
<text x="388.20" y="460.57" font-size="7.8" font-weight="bold" text-anchor="end" fill="#000" >80</text>
<line x1="390.90" y1="472.98" x2="395.20" y2="472.98" stroke="#000" stroke-width="1.4" />
<text x="388.20" y="475.78" font-size="7.8" font-weight="bold" text-anchor="end" fill="#000" >60</text>
<line x1="390.90" y1="488.18" x2="395.20" y2="488.18" stroke="#000" stroke-width="1.4" />
<text x="388.20" y="490.98" font-size="7.8" font-weight="bold" text-anchor="end" fill="#000" >40</text>
<line x1="390.90" y1="503.39" x2="395.20" y2="503.39" stroke="#000" stroke-width="1.4" />
<text x="388.20" y="506.19" font-size="7.8" font-weight="bold" text-anchor="end" fill="#000" >20</text>
<line x1="390.90" y1="518.60" x2="395.20" y2="518.60" stroke="#000" stroke-width="1.4" />
<text x="388.20" y="521.40" font-size="7.8" font-weight="bold" text-anchor="end" fill="#000" >0</text>
<line x1="394.50" y1="518.60" x2="533.80" y2="518.60" stroke="#000" stroke-width="1.5" />
<line x1="395.20" y1="518.60" x2="395.20" y2="523.30" stroke="#000" stroke-width="1.4" />
<text transform="translate(396.40,531.20) rotate(-45)" font-size="8.0" font-weight="bold" text-anchor="end">0</text>
<line x1="405.05" y1="518.60" x2="405.05" y2="523.30" stroke="#000" stroke-width="1.4" />
<text transform="translate(406.25,531.20) rotate(-45)" font-size="8.0" font-weight="bold" text-anchor="end">1</text>
<line x1="414.90" y1="518.60" x2="414.90" y2="523.30" stroke="#000" stroke-width="1.4" />
<text transform="translate(416.10,531.20) rotate(-45)" font-size="8.0" font-weight="bold" text-anchor="end">2</text>
<line x1="424.75" y1="518.60" x2="424.75" y2="523.30" stroke="#000" stroke-width="1.4" />
<text transform="translate(425.95,531.20) rotate(-45)" font-size="8.0" font-weight="bold" text-anchor="end">3</text>
<line x1="434.60" y1="518.60" x2="434.60" y2="523.30" stroke="#000" stroke-width="1.4" />
<text transform="translate(435.80,531.20) rotate(-45)" font-size="8.0" font-weight="bold" text-anchor="end">4</text>
<line x1="444.45" y1="518.60" x2="444.45" y2="523.30" stroke="#000" stroke-width="1.4" />
<text transform="translate(445.65,531.20) rotate(-45)" font-size="8.0" font-weight="bold" text-anchor="end">5</text>
<line x1="454.30" y1="518.60" x2="454.30" y2="523.30" stroke="#000" stroke-width="1.4" />
<text transform="translate(455.50,531.20) rotate(-45)" font-size="8.0" font-weight="bold" text-anchor="end">6</text>
<line x1="464.15" y1="518.60" x2="464.15" y2="523.30" stroke="#000" stroke-width="1.4" />
<text transform="translate(465.35,531.20) rotate(-45)" font-size="8.0" font-weight="bold" text-anchor="end">7</text>
<line x1="474.00" y1="518.60" x2="474.00" y2="523.30" stroke="#000" stroke-width="1.4" />
<text transform="translate(475.20,531.20) rotate(-45)" font-size="8.0" font-weight="bold" text-anchor="end">8</text>
<line x1="483.85" y1="518.60" x2="483.85" y2="523.30" stroke="#000" stroke-width="1.4" />
<text transform="translate(485.05,531.20) rotate(-45)" font-size="8.0" font-weight="bold" text-anchor="end">9</text>
<line x1="493.70" y1="518.60" x2="493.70" y2="523.30" stroke="#000" stroke-width="1.4" />
<text transform="translate(494.90,531.20) rotate(-45)" font-size="8.0" font-weight="bold" text-anchor="end">10</text>
<line x1="503.55" y1="518.60" x2="503.55" y2="523.30" stroke="#000" stroke-width="1.4" />
<text transform="translate(504.75,531.20) rotate(-45)" font-size="8.0" font-weight="bold" text-anchor="end">11</text>
<line x1="513.40" y1="518.60" x2="513.40" y2="523.30" stroke="#000" stroke-width="1.4" />
<text transform="translate(514.60,531.20) rotate(-45)" font-size="8.0" font-weight="bold" text-anchor="end">12</text>
<line x1="523.25" y1="518.60" x2="523.25" y2="523.30" stroke="#000" stroke-width="1.4" />
<text transform="translate(524.45,531.20) rotate(-45)" font-size="8.0" font-weight="bold" text-anchor="end">13</text>
<line x1="533.10" y1="518.60" x2="533.10" y2="523.30" stroke="#000" stroke-width="1.4" />
<text transform="translate(534.30,531.20) rotate(-45)" font-size="8.0" font-weight="bold" text-anchor="end">14</text>
<text x="464.15" y="551.70" font-size="9.1" font-weight="bold" text-anchor="middle" fill="#000" >Days post infection</text>
<text transform="translate(368.6,352) rotate(-90)" font-size="9" font-weight="bold" text-anchor="middle">Probability of Survival</text></svg>
</body></html>
